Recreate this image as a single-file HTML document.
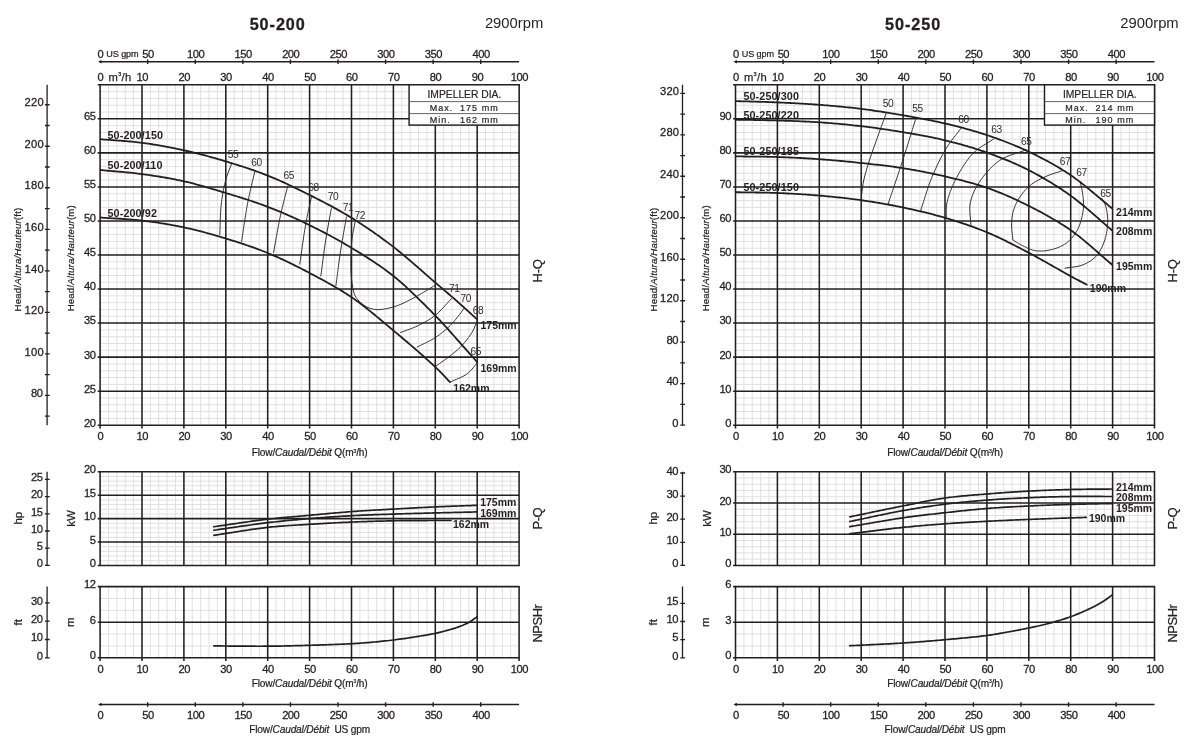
<!DOCTYPE html>
<html lang="en">
<head>
<meta charset="utf-8">
<title>Pump performance curves 50-200 / 50-250</title>
<style>
html,body{margin:0;padding:0;background:#fff;}
body{width:1200px;height:751px;overflow:hidden;font-family:"Liberation Sans",sans-serif;}
svg{display:block;}
</style>
</head>
<body>
<svg width="1200" height="751" viewBox="0 0 1200 751" font-family="'Liberation Sans', sans-serif">
<rect width="1200" height="751" fill="#fff"/>
<path d="M100.1 61.8H519.1M147.68 59.6V64M195.26 59.6V64M242.84 59.6V64M290.42 59.6V64M338 59.6V64M385.58 59.6V64M433.16 59.6V64M480.74 59.6V64" stroke="#231f20" stroke-width="1.4" fill="none"/>
<path d="M98 61.8l3.5 -1.8v3.6z" fill="#231f20"/>
<text x="100.4" y="57.9" font-size="11.2" text-anchor="middle" fill="#231f20" letter-spacing="-0.5" stroke="#231f20" stroke-width="0.28">0</text>
<text x="147.98" y="57.9" font-size="11.2" text-anchor="middle" fill="#231f20" letter-spacing="-0.5" stroke="#231f20" stroke-width="0.28">50</text>
<text x="195.56" y="57.9" font-size="11.2" text-anchor="middle" fill="#231f20" letter-spacing="-0.5" stroke="#231f20" stroke-width="0.28">100</text>
<text x="243.14" y="57.9" font-size="11.2" text-anchor="middle" fill="#231f20" letter-spacing="-0.5" stroke="#231f20" stroke-width="0.28">150</text>
<text x="290.72" y="57.9" font-size="11.2" text-anchor="middle" fill="#231f20" letter-spacing="-0.5" stroke="#231f20" stroke-width="0.28">200</text>
<text x="338.3" y="57.9" font-size="11.2" text-anchor="middle" fill="#231f20" letter-spacing="-0.5" stroke="#231f20" stroke-width="0.28">250</text>
<text x="385.88" y="57.9" font-size="11.2" text-anchor="middle" fill="#231f20" letter-spacing="-0.5" stroke="#231f20" stroke-width="0.28">300</text>
<text x="433.46" y="57.9" font-size="11.2" text-anchor="middle" fill="#231f20" letter-spacing="-0.5" stroke="#231f20" stroke-width="0.28">350</text>
<text x="481.04" y="57.9" font-size="11.2" text-anchor="middle" fill="#231f20" letter-spacing="-0.5" stroke="#231f20" stroke-width="0.28">400</text>
<text x="106.3" y="56.9" font-size="9.1" text-anchor="start" fill="#231f20" letter-spacing="-0.1" stroke="#231f20" stroke-width="0.22">US gpm</text>
<text x="100.4" y="80.6" font-size="11.2" text-anchor="middle" fill="#231f20" letter-spacing="-0.5" stroke="#231f20" stroke-width="0.28">0</text>
<text x="142.3" y="80.6" font-size="11.2" text-anchor="middle" fill="#231f20" letter-spacing="-0.5" stroke="#231f20" stroke-width="0.28">10</text>
<text x="184.2" y="80.6" font-size="11.2" text-anchor="middle" fill="#231f20" letter-spacing="-0.5" stroke="#231f20" stroke-width="0.28">20</text>
<text x="226.1" y="80.6" font-size="11.2" text-anchor="middle" fill="#231f20" letter-spacing="-0.5" stroke="#231f20" stroke-width="0.28">30</text>
<text x="268" y="80.6" font-size="11.2" text-anchor="middle" fill="#231f20" letter-spacing="-0.5" stroke="#231f20" stroke-width="0.28">40</text>
<text x="309.9" y="80.6" font-size="11.2" text-anchor="middle" fill="#231f20" letter-spacing="-0.5" stroke="#231f20" stroke-width="0.28">50</text>
<text x="351.8" y="80.6" font-size="11.2" text-anchor="middle" fill="#231f20" letter-spacing="-0.5" stroke="#231f20" stroke-width="0.28">60</text>
<text x="393.7" y="80.6" font-size="11.2" text-anchor="middle" fill="#231f20" letter-spacing="-0.5" stroke="#231f20" stroke-width="0.28">70</text>
<text x="435.6" y="80.6" font-size="11.2" text-anchor="middle" fill="#231f20" letter-spacing="-0.5" stroke="#231f20" stroke-width="0.28">80</text>
<text x="477.5" y="80.6" font-size="11.2" text-anchor="middle" fill="#231f20" letter-spacing="-0.5" stroke="#231f20" stroke-width="0.28">90</text>
<text x="519.4" y="80.6" font-size="11.2" text-anchor="middle" fill="#231f20" letter-spacing="-0.5" stroke="#231f20" stroke-width="0.28">100</text>
<text x="108.5" y="80.6" font-size="11.2" fill="#231f20" letter-spacing="0.35" stroke="#231f20" stroke-width="0.25">m<tspan font-size="5.5" dy="-4.6">3</tspan><tspan dy="4.6">/h</tspan></text>
<path d="M108.48 84.8V425.2M116.86 84.8V425.2M125.24 84.8V425.2M133.62 84.8V425.2M150.38 84.8V425.2M158.76 84.8V425.2M167.14 84.8V425.2M175.52 84.8V425.2M192.28 84.8V425.2M200.66 84.8V425.2M209.04 84.8V425.2M217.42 84.8V425.2M234.18 84.8V425.2M242.56 84.8V425.2M250.94 84.8V425.2M259.32 84.8V425.2M276.08 84.8V425.2M284.46 84.8V425.2M292.84 84.8V425.2M301.22 84.8V425.2M317.98 84.8V425.2M326.36 84.8V425.2M334.74 84.8V425.2M343.12 84.8V425.2M359.88 84.8V425.2M368.26 84.8V425.2M376.64 84.8V425.2M385.02 84.8V425.2M401.78 84.8V425.2M410.16 84.8V425.2M418.54 84.8V425.2M426.92 84.8V425.2M443.68 84.8V425.2M452.06 84.8V425.2M460.44 84.8V425.2M468.82 84.8V425.2M485.58 84.8V425.2M493.96 84.8V425.2M502.34 84.8V425.2M510.72 84.8V425.2M100.1 91.61H519.1M100.1 98.42H519.1M100.1 105.22H519.1M100.1 112.03H519.1M100.1 125.65H519.1M100.1 132.46H519.1M100.1 139.26H519.1M100.1 146.07H519.1M100.1 159.69H519.1M100.1 166.5H519.1M100.1 173.3H519.1M100.1 180.11H519.1M100.1 193.73H519.1M100.1 200.54H519.1M100.1 207.34H519.1M100.1 214.15H519.1M100.1 227.77H519.1M100.1 234.58H519.1M100.1 241.38H519.1M100.1 248.19H519.1M100.1 261.81H519.1M100.1 268.62H519.1M100.1 275.42H519.1M100.1 282.23H519.1M100.1 295.85H519.1M100.1 302.66H519.1M100.1 309.46H519.1M100.1 316.27H519.1M100.1 329.89H519.1M100.1 336.7H519.1M100.1 343.5H519.1M100.1 350.31H519.1M100.1 363.93H519.1M100.1 370.74H519.1M100.1 377.54H519.1M100.1 384.35H519.1M100.1 397.97H519.1M100.1 404.78H519.1M100.1 411.58H519.1M100.1 418.39H519.1" stroke="#e0e0e2" stroke-width="1" fill="none"/>
<path d="M100.1 84.1V425.9M142 84.1V425.9M183.9 84.1V425.9M225.8 84.1V425.9M267.7 84.1V425.9M309.6 84.1V425.9M351.5 84.1V425.9M393.4 84.1V425.9M435.3 84.1V425.9M477.2 84.1V425.9M519.1 84.1V425.9M99.4 84.8H519.8M99.4 118.84H519.8M99.4 152.88H519.8M99.4 186.92H519.8M99.4 220.96H519.8M99.4 255H519.8M99.4 289.04H519.8M99.4 323.08H519.8M99.4 357.12H519.8M99.4 391.16H519.8M99.4 425.2H519.8" stroke="#231f20" stroke-width="1.55" fill="none"/>
<path d="M108.48 471.8V565.4M116.86 471.8V565.4M125.24 471.8V565.4M133.62 471.8V565.4M150.38 471.8V565.4M158.76 471.8V565.4M167.14 471.8V565.4M175.52 471.8V565.4M192.28 471.8V565.4M200.66 471.8V565.4M209.04 471.8V565.4M217.42 471.8V565.4M234.18 471.8V565.4M242.56 471.8V565.4M250.94 471.8V565.4M259.32 471.8V565.4M276.08 471.8V565.4M284.46 471.8V565.4M292.84 471.8V565.4M301.22 471.8V565.4M317.98 471.8V565.4M326.36 471.8V565.4M334.74 471.8V565.4M343.12 471.8V565.4M359.88 471.8V565.4M368.26 471.8V565.4M376.64 471.8V565.4M385.02 471.8V565.4M401.78 471.8V565.4M410.16 471.8V565.4M418.54 471.8V565.4M426.92 471.8V565.4M443.68 471.8V565.4M452.06 471.8V565.4M460.44 471.8V565.4M468.82 471.8V565.4M485.58 471.8V565.4M493.96 471.8V565.4M502.34 471.8V565.4M510.72 471.8V565.4M100.1 476.48H519.1M100.1 481.16H519.1M100.1 485.84H519.1M100.1 490.52H519.1M100.1 499.88H519.1M100.1 504.56H519.1M100.1 509.24H519.1M100.1 513.92H519.1M100.1 523.28H519.1M100.1 527.96H519.1M100.1 532.64H519.1M100.1 537.32H519.1M100.1 546.68H519.1M100.1 551.36H519.1M100.1 556.04H519.1M100.1 560.72H519.1" stroke="#e0e0e2" stroke-width="1" fill="none"/>
<path d="M100.1 471.1V566.1M142 471.1V566.1M183.9 471.1V566.1M225.8 471.1V566.1M267.7 471.1V566.1M309.6 471.1V566.1M351.5 471.1V566.1M393.4 471.1V566.1M435.3 471.1V566.1M477.2 471.1V566.1M519.1 471.1V566.1M99.4 471.8H519.8M99.4 495.2H519.8M99.4 518.6H519.8M99.4 542H519.8M99.4 565.4H519.8" stroke="#231f20" stroke-width="1.55" fill="none"/>
<path d="M108.48 586.6V657.8M116.86 586.6V657.8M125.24 586.6V657.8M133.62 586.6V657.8M150.38 586.6V657.8M158.76 586.6V657.8M167.14 586.6V657.8M175.52 586.6V657.8M192.28 586.6V657.8M200.66 586.6V657.8M209.04 586.6V657.8M217.42 586.6V657.8M234.18 586.6V657.8M242.56 586.6V657.8M250.94 586.6V657.8M259.32 586.6V657.8M276.08 586.6V657.8M284.46 586.6V657.8M292.84 586.6V657.8M301.22 586.6V657.8M317.98 586.6V657.8M326.36 586.6V657.8M334.74 586.6V657.8M343.12 586.6V657.8M359.88 586.6V657.8M368.26 586.6V657.8M376.64 586.6V657.8M385.02 586.6V657.8M401.78 586.6V657.8M410.16 586.6V657.8M418.54 586.6V657.8M426.92 586.6V657.8M443.68 586.6V657.8M452.06 586.6V657.8M460.44 586.6V657.8M468.82 586.6V657.8M485.58 586.6V657.8M493.96 586.6V657.8M502.34 586.6V657.8M510.72 586.6V657.8M100.1 598.47H519.1M100.1 610.33H519.1M100.1 634.07H519.1M100.1 645.93H519.1" stroke="#e0e0e2" stroke-width="1" fill="none"/>
<path d="M100.1 585.9V658.5M142 585.9V658.5M183.9 585.9V658.5M225.8 585.9V658.5M267.7 585.9V658.5M309.6 585.9V658.5M351.5 585.9V658.5M393.4 585.9V658.5M435.3 585.9V658.5M477.2 585.9V658.5M519.1 585.9V658.5M99.4 586.6H519.8M99.4 622.2H519.8M99.4 657.8H519.8" stroke="#231f20" stroke-width="1.55" fill="none"/>
<path d="M97.7 84.8H100.1M97.7 118.84H100.1M97.7 152.88H100.1M97.7 186.92H100.1M97.7 220.96H100.1M97.7 255H100.1M97.7 289.04H100.1M97.7 323.08H100.1M97.7 357.12H100.1M97.7 391.16H100.1M97.7 425.2H100.1M97.7 471.8H100.1M97.7 495.2H100.1M97.7 518.6H100.1M97.7 542H100.1M97.7 565.4H100.1M97.7 586.6H100.1M97.7 622.2H100.1M97.7 657.8H100.1M100.1 425.2V428.4M100.1 657.8V661M142 425.2V428.4M142 657.8V661M183.9 425.2V428.4M183.9 657.8V661M225.8 425.2V428.4M225.8 657.8V661M267.7 425.2V428.4M267.7 657.8V661M309.6 425.2V428.4M309.6 657.8V661M351.5 425.2V428.4M351.5 657.8V661M393.4 425.2V428.4M393.4 657.8V661M435.3 425.2V428.4M435.3 657.8V661M477.2 425.2V428.4M477.2 657.8V661M519.1 425.2V428.4M519.1 657.8V661" stroke="#231f20" stroke-width="1.55" fill="none"/>
<text x="95.5" y="426.6" font-size="11.2" text-anchor="end" fill="#231f20" letter-spacing="-0.5" stroke="#231f20" stroke-width="0.28">20</text>
<text x="95.5" y="392.56" font-size="11.2" text-anchor="end" fill="#231f20" letter-spacing="-0.5" stroke="#231f20" stroke-width="0.28">25</text>
<text x="95.5" y="358.52" font-size="11.2" text-anchor="end" fill="#231f20" letter-spacing="-0.5" stroke="#231f20" stroke-width="0.28">30</text>
<text x="95.5" y="324.48" font-size="11.2" text-anchor="end" fill="#231f20" letter-spacing="-0.5" stroke="#231f20" stroke-width="0.28">35</text>
<text x="95.5" y="290.44" font-size="11.2" text-anchor="end" fill="#231f20" letter-spacing="-0.5" stroke="#231f20" stroke-width="0.28">40</text>
<text x="95.5" y="256.4" font-size="11.2" text-anchor="end" fill="#231f20" letter-spacing="-0.5" stroke="#231f20" stroke-width="0.28">45</text>
<text x="95.5" y="222.36" font-size="11.2" text-anchor="end" fill="#231f20" letter-spacing="-0.5" stroke="#231f20" stroke-width="0.28">50</text>
<text x="95.5" y="188.32" font-size="11.2" text-anchor="end" fill="#231f20" letter-spacing="-0.5" stroke="#231f20" stroke-width="0.28">55</text>
<text x="95.5" y="154.28" font-size="11.2" text-anchor="end" fill="#231f20" letter-spacing="-0.5" stroke="#231f20" stroke-width="0.28">60</text>
<text x="95.5" y="120.24" font-size="11.2" text-anchor="end" fill="#231f20" letter-spacing="-0.5" stroke="#231f20" stroke-width="0.28">65</text>
<text x="95.5" y="566.9" font-size="11.2" text-anchor="end" fill="#231f20" letter-spacing="-0.5" stroke="#231f20" stroke-width="0.28">0</text>
<text x="95.5" y="543.5" font-size="11.2" text-anchor="end" fill="#231f20" letter-spacing="-0.5" stroke="#231f20" stroke-width="0.28">5</text>
<text x="95.5" y="520.1" font-size="11.2" text-anchor="end" fill="#231f20" letter-spacing="-0.5" stroke="#231f20" stroke-width="0.28">10</text>
<text x="95.5" y="496.7" font-size="11.2" text-anchor="end" fill="#231f20" letter-spacing="-0.5" stroke="#231f20" stroke-width="0.28">15</text>
<text x="95.5" y="473.3" font-size="11.2" text-anchor="end" fill="#231f20" letter-spacing="-0.5" stroke="#231f20" stroke-width="0.28">20</text>
<text x="95.5" y="659.2" font-size="11.2" text-anchor="end" fill="#231f20" letter-spacing="-0.5" stroke="#231f20" stroke-width="0.28">0</text>
<text x="95.5" y="623.6" font-size="11.2" text-anchor="end" fill="#231f20" letter-spacing="-0.5" stroke="#231f20" stroke-width="0.28">6</text>
<text x="95.5" y="588" font-size="11.2" text-anchor="end" fill="#231f20" letter-spacing="-0.5" stroke="#231f20" stroke-width="0.28">12</text>
<text x="100.4" y="440.2" font-size="11.2" text-anchor="middle" fill="#231f20" letter-spacing="-0.5" stroke="#231f20" stroke-width="0.28">0</text>
<text x="100.4" y="672.6" font-size="11.2" text-anchor="middle" fill="#231f20" letter-spacing="-0.5" stroke="#231f20" stroke-width="0.28">0</text>
<text x="142.3" y="440.2" font-size="11.2" text-anchor="middle" fill="#231f20" letter-spacing="-0.5" stroke="#231f20" stroke-width="0.28">10</text>
<text x="142.3" y="672.6" font-size="11.2" text-anchor="middle" fill="#231f20" letter-spacing="-0.5" stroke="#231f20" stroke-width="0.28">10</text>
<text x="184.2" y="440.2" font-size="11.2" text-anchor="middle" fill="#231f20" letter-spacing="-0.5" stroke="#231f20" stroke-width="0.28">20</text>
<text x="184.2" y="672.6" font-size="11.2" text-anchor="middle" fill="#231f20" letter-spacing="-0.5" stroke="#231f20" stroke-width="0.28">20</text>
<text x="226.1" y="440.2" font-size="11.2" text-anchor="middle" fill="#231f20" letter-spacing="-0.5" stroke="#231f20" stroke-width="0.28">30</text>
<text x="226.1" y="672.6" font-size="11.2" text-anchor="middle" fill="#231f20" letter-spacing="-0.5" stroke="#231f20" stroke-width="0.28">30</text>
<text x="268" y="440.2" font-size="11.2" text-anchor="middle" fill="#231f20" letter-spacing="-0.5" stroke="#231f20" stroke-width="0.28">40</text>
<text x="268" y="672.6" font-size="11.2" text-anchor="middle" fill="#231f20" letter-spacing="-0.5" stroke="#231f20" stroke-width="0.28">40</text>
<text x="309.9" y="440.2" font-size="11.2" text-anchor="middle" fill="#231f20" letter-spacing="-0.5" stroke="#231f20" stroke-width="0.28">50</text>
<text x="309.9" y="672.6" font-size="11.2" text-anchor="middle" fill="#231f20" letter-spacing="-0.5" stroke="#231f20" stroke-width="0.28">50</text>
<text x="351.8" y="440.2" font-size="11.2" text-anchor="middle" fill="#231f20" letter-spacing="-0.5" stroke="#231f20" stroke-width="0.28">60</text>
<text x="351.8" y="672.6" font-size="11.2" text-anchor="middle" fill="#231f20" letter-spacing="-0.5" stroke="#231f20" stroke-width="0.28">60</text>
<text x="393.7" y="440.2" font-size="11.2" text-anchor="middle" fill="#231f20" letter-spacing="-0.5" stroke="#231f20" stroke-width="0.28">70</text>
<text x="393.7" y="672.6" font-size="11.2" text-anchor="middle" fill="#231f20" letter-spacing="-0.5" stroke="#231f20" stroke-width="0.28">70</text>
<text x="435.6" y="440.2" font-size="11.2" text-anchor="middle" fill="#231f20" letter-spacing="-0.5" stroke="#231f20" stroke-width="0.28">80</text>
<text x="435.6" y="672.6" font-size="11.2" text-anchor="middle" fill="#231f20" letter-spacing="-0.5" stroke="#231f20" stroke-width="0.28">80</text>
<text x="477.5" y="440.2" font-size="11.2" text-anchor="middle" fill="#231f20" letter-spacing="-0.5" stroke="#231f20" stroke-width="0.28">90</text>
<text x="477.5" y="672.6" font-size="11.2" text-anchor="middle" fill="#231f20" letter-spacing="-0.5" stroke="#231f20" stroke-width="0.28">90</text>
<text x="519.4" y="440.2" font-size="11.2" text-anchor="middle" fill="#231f20" letter-spacing="-0.5" stroke="#231f20" stroke-width="0.28">100</text>
<text x="519.4" y="672.6" font-size="11.2" text-anchor="middle" fill="#231f20" letter-spacing="-0.5" stroke="#231f20" stroke-width="0.28">100</text>
<text x="309.6" y="456.2" font-size="10.1" text-anchor="middle" fill="#231f20" letter-spacing="-0.15" stroke="#231f20" stroke-width="0.22">Flow/<tspan font-style="italic">Caudal/Débit</tspan> Q(m<tspan font-size="5" dy="-3.6">3</tspan><tspan dy="3.6">/h)</tspan></text>
<text x="309.6" y="686.6" font-size="10.1" text-anchor="middle" fill="#231f20" letter-spacing="-0.15" stroke="#231f20" stroke-width="0.22">Flow/<tspan font-style="italic">Caudal/Débit</tspan> Q(m<tspan font-size="5" dy="-3.6">3</tspan><tspan dy="3.6">/h)</tspan></text>
<text x="309.6" y="733.2" font-size="10.1" text-anchor="middle" fill="#231f20" letter-spacing="-0.15" stroke="#231f20" stroke-width="0.22">Flow/<tspan font-style="italic">Caudal/Débit</tspan> &#160;US gpm</text>
<path d="M100.1 704.5H519.1M147.68 702.3V706.7M195.26 702.3V706.7M242.84 702.3V706.7M290.42 702.3V706.7M338 702.3V706.7M385.58 702.3V706.7M433.16 702.3V706.7M480.74 702.3V706.7" stroke="#231f20" stroke-width="1.4" fill="none"/>
<path d="M98 704.5l3.5 -1.8v3.6z" fill="#231f20"/>
<text x="100.4" y="719.4" font-size="11.2" text-anchor="middle" fill="#231f20" letter-spacing="-0.5" stroke="#231f20" stroke-width="0.28">0</text>
<text x="147.98" y="719.4" font-size="11.2" text-anchor="middle" fill="#231f20" letter-spacing="-0.5" stroke="#231f20" stroke-width="0.28">50</text>
<text x="195.56" y="719.4" font-size="11.2" text-anchor="middle" fill="#231f20" letter-spacing="-0.5" stroke="#231f20" stroke-width="0.28">100</text>
<text x="243.14" y="719.4" font-size="11.2" text-anchor="middle" fill="#231f20" letter-spacing="-0.5" stroke="#231f20" stroke-width="0.28">150</text>
<text x="290.72" y="719.4" font-size="11.2" text-anchor="middle" fill="#231f20" letter-spacing="-0.5" stroke="#231f20" stroke-width="0.28">200</text>
<text x="338.3" y="719.4" font-size="11.2" text-anchor="middle" fill="#231f20" letter-spacing="-0.5" stroke="#231f20" stroke-width="0.28">250</text>
<text x="385.88" y="719.4" font-size="11.2" text-anchor="middle" fill="#231f20" letter-spacing="-0.5" stroke="#231f20" stroke-width="0.28">300</text>
<text x="433.46" y="719.4" font-size="11.2" text-anchor="middle" fill="#231f20" letter-spacing="-0.5" stroke="#231f20" stroke-width="0.28">350</text>
<text x="481.04" y="719.4" font-size="11.2" text-anchor="middle" fill="#231f20" letter-spacing="-0.5" stroke="#231f20" stroke-width="0.28">400</text>
<text x="42.5" y="397.04" font-size="11.2" text-anchor="end" fill="#231f20" letter-spacing="-0.5" stroke="#231f20" stroke-width="0.28">80</text>
<text x="43.9" y="355.53" font-size="11.2" text-anchor="end" fill="#231f20" letter-spacing="0.2" stroke="#231f20" stroke-width="0.28">100</text>
<text x="43.9" y="314.02" font-size="11.2" text-anchor="end" fill="#231f20" letter-spacing="0.2" stroke="#231f20" stroke-width="0.28">120</text>
<text x="43.9" y="272.5" font-size="11.2" text-anchor="end" fill="#231f20" letter-spacing="0.2" stroke="#231f20" stroke-width="0.28">140</text>
<text x="43.9" y="230.99" font-size="11.2" text-anchor="end" fill="#231f20" letter-spacing="0.2" stroke="#231f20" stroke-width="0.28">160</text>
<text x="43.9" y="189.47" font-size="11.2" text-anchor="end" fill="#231f20" letter-spacing="0.2" stroke="#231f20" stroke-width="0.28">180</text>
<text x="43.9" y="147.96" font-size="11.2" text-anchor="end" fill="#231f20" letter-spacing="0.2" stroke="#231f20" stroke-width="0.28">200</text>
<text x="43.9" y="106.45" font-size="11.2" text-anchor="end" fill="#231f20" letter-spacing="0.2" stroke="#231f20" stroke-width="0.28">220</text>
<text x="42.5" y="567.1" font-size="11.2" text-anchor="end" fill="#231f20" letter-spacing="-0.5" stroke="#231f20" stroke-width="0.28">0</text>
<text x="42.5" y="549.9" font-size="11.2" text-anchor="end" fill="#231f20" letter-spacing="-0.5" stroke="#231f20" stroke-width="0.28">5</text>
<text x="42.5" y="532.7" font-size="11.2" text-anchor="end" fill="#231f20" letter-spacing="-0.5" stroke="#231f20" stroke-width="0.28">10</text>
<text x="42.5" y="515.5" font-size="11.2" text-anchor="end" fill="#231f20" letter-spacing="-0.5" stroke="#231f20" stroke-width="0.28">15</text>
<text x="42.5" y="498.3" font-size="11.2" text-anchor="end" fill="#231f20" letter-spacing="-0.5" stroke="#231f20" stroke-width="0.28">20</text>
<text x="42.5" y="481.1" font-size="11.2" text-anchor="end" fill="#231f20" letter-spacing="-0.5" stroke="#231f20" stroke-width="0.28">25</text>
<text x="42.5" y="659.5" font-size="11.2" text-anchor="end" fill="#231f20" letter-spacing="-0.5" stroke="#231f20" stroke-width="0.28">0</text>
<text x="42.5" y="641.2" font-size="11.2" text-anchor="end" fill="#231f20" letter-spacing="-0.5" stroke="#231f20" stroke-width="0.28">10</text>
<text x="42.5" y="622.9" font-size="11.2" text-anchor="end" fill="#231f20" letter-spacing="-0.5" stroke="#231f20" stroke-width="0.28">20</text>
<text x="42.5" y="604.6" font-size="11.2" text-anchor="end" fill="#231f20" letter-spacing="-0.5" stroke="#231f20" stroke-width="0.28">30</text>
<path d="M47.1 84.8V425.2M44.9 416.1H49.7M44.9 395.34H49.7M44.9 374.59H49.7M44.9 353.83H49.7M44.9 333.07H49.7M44.9 312.32H49.7M44.9 291.56H49.7M44.9 270.8H49.7M44.9 250.05H49.7M44.9 229.29H49.7M44.9 208.53H49.7M44.9 187.77H49.7M44.9 167.02H49.7M44.9 146.26H49.7M44.9 125.5H49.7M44.9 104.75H49.7M47.1 471.8V565.4M44.9 565.4H49.7M44.9 548.2H49.7M44.9 531H49.7M44.9 513.8H49.7M44.9 496.6H49.7M44.9 479.4H49.7M47.1 586.6V657.8M44.9 657.8H49.7M44.9 639.5H49.7M44.9 621.2H49.7M44.9 602.9H49.7" stroke="#231f20" stroke-width="1.3" fill="none"/>
<text x="21.1" y="259.5" font-size="9.6" text-anchor="middle" fill="#231f20" letter-spacing="0.2" stroke="#231f20" stroke-width="0.22" transform="rotate(-90 21.1 259.5)">Head/<tspan font-style="italic">Altura/Hauteur</tspan>(ft)</text>
<text x="74.1" y="258.2" font-size="9.6" text-anchor="middle" fill="#231f20" letter-spacing="0.2" stroke="#231f20" stroke-width="0.22" transform="rotate(-90 74.1 258.2)">Head/<tspan font-style="italic">Altura/Hauteur</tspan>(m)</text>
<text x="21.7" y="518.2" font-size="11.5" text-anchor="middle" fill="#231f20" transform="rotate(-90 21.7 518.2)" stroke="#231f20" stroke-width="0.22">hp</text>
<text x="75.3" y="518.5" font-size="11.5" text-anchor="middle" fill="#231f20" transform="rotate(-90 75.3 518.5)" stroke="#231f20" stroke-width="0.22">kW</text>
<text x="22.1" y="622.2" font-size="11.5" text-anchor="middle" fill="#231f20" transform="rotate(-90 22.1 622.2)" stroke="#231f20" stroke-width="0.22">ft</text>
<text x="73.6" y="622.2" font-size="11.5" text-anchor="middle" fill="#231f20" transform="rotate(-90 73.6 622.2)" stroke="#231f20" stroke-width="0.22">m</text>
<text x="541.7" y="270.9" font-size="13" text-anchor="middle" fill="#231f20" letter-spacing="-0.3" transform="rotate(-90 541.7 270.9)" stroke="#231f20" stroke-width="0.22">H-Q</text>
<text x="541.7" y="518.7" font-size="13" text-anchor="middle" fill="#231f20" letter-spacing="-0.5" transform="rotate(-90 541.7 518.7)" stroke="#231f20" stroke-width="0.22">P-Q</text>
<text x="541.7" y="623.6" font-size="13" text-anchor="middle" fill="#231f20" letter-spacing="-0.5" transform="rotate(-90 541.7 623.6)" stroke="#231f20" stroke-width="0.22">NPSHr</text>
<text x="277.7" y="30" font-size="16.2" text-anchor="middle" fill="#231f20" font-weight="bold" letter-spacing="0.95" stroke="#231f20" stroke-width="0.3">50-200</text>
<text x="514.1" y="27.8" font-size="14.8" text-anchor="middle" fill="#231f20">2900rpm</text>
<rect x="409.1" y="84.8" width="110" height="40.3" fill="#fff" stroke="#231f20" stroke-width="1.45"/>
<path d="M409.1 101.6H519.1M409.1 113.6H519.1" stroke="#555" stroke-width="0.9" fill="none"/>
<text x="464.4" y="97.5" font-size="10.3" text-anchor="middle" fill="#2a2627" letter-spacing="0" stroke="#2a2627" stroke-width="0.2">IMPELLER DIA.</text>
<text y="110.5" font-size="9" letter-spacing="1" fill="#2a2627" stroke="#2a2627" stroke-width="0.2"><tspan x="429.8">Max.</tspan><tspan x="460.1">175</tspan><tspan x="481.8">mm</tspan></text>
<text y="122.5" font-size="9" letter-spacing="1" fill="#2a2627" stroke="#2a2627" stroke-width="0.2"><tspan x="429.8">Min.</tspan><tspan x="460.1">162</tspan><tspan x="481.8">mm</tspan></text>
<path d="M231.5 163.9L230.75 165.95 229.98 167.97 229.2 169.98 228.42 172 227.66 174.04 226.93 176.12 226.24 178.27 225.6 180.5 225.1 182.45 224.61 184.44 224.15 186.47 223.72 188.54 223.3 190.64 222.91 192.78 222.54 194.95 222.2 197.15 221.87 199.38 221.58 201.63 221.3 203.9 221.09 205.83 220.92 207.8 220.77 209.79 220.64 211.82 220.53 213.87 220.44 215.94 220.36 218.02 220.29 220.12 220.23 222.22 220.17 224.33 220.11 226.44 220.04 228.55 219.97 230.65 219.89 232.73 219.8 234.8" stroke="#2b2728" stroke-width="0.95" fill="none"/>
<path d="M254.7 172L254.24 173.98 253.78 175.94 253.32 177.89 252.86 179.83 252.39 181.76 251.92 183.7 251.46 185.64 251 187.59 250.54 189.55 250.08 191.53 249.63 193.52 249.19 195.55 248.75 197.6 248.32 199.68 247.9 201.8 247.55 203.66 247.2 205.55 246.86 207.47 246.52 209.41 246.19 211.37 245.87 213.35 245.55 215.35 245.23 217.36 244.92 219.39 244.6 221.42 244.29 223.46 243.99 225.51 243.68 227.56 243.37 229.61 243.06 231.66 242.76 233.7 242.45 235.74 242.13 237.77 241.82 239.79 241.5 241.8" stroke="#2b2728" stroke-width="0.95" fill="none"/>
<path d="M287.8 185.8L287.31 187.77 286.81 189.71 286.31 191.64 285.81 193.57 285.31 195.48 284.81 197.4 284.31 199.33 283.82 201.27 283.32 203.23 282.83 205.22 282.34 207.23 281.85 209.28 281.37 211.37 280.9 213.5 280.51 215.31 280.13 217.15 279.74 219.02 279.37 220.92 278.99 222.85 278.62 224.8 278.25 226.76 277.88 228.75 277.51 230.74 277.15 232.75 276.78 234.77 276.42 236.8 276.06 238.83 275.69 240.86 275.33 242.88 274.97 244.91 274.6 246.92 274.24 248.93 273.87 250.92 273.5 252.9" stroke="#2b2728" stroke-width="0.95" fill="none"/>
<path d="M311.4 197.1L310.98 199.08 310.55 201.04 310.12 202.97 309.69 204.9 309.26 206.82 308.83 208.74 308.4 210.68 307.98 212.65 307.56 214.64 307.13 216.67 306.72 218.76 306.31 220.9 305.9 223.1 305.57 224.95 305.25 226.85 304.93 228.79 304.61 230.77 304.29 232.78 303.98 234.83 303.67 236.9 303.36 238.99 303.06 241.11 302.75 243.24 302.45 245.38 302.14 247.53 301.84 249.68 301.54 251.84 301.23 253.99 300.93 256.14 300.62 258.28 300.32 260.41 300.01 262.51 299.7 264.6" stroke="#2b2728" stroke-width="0.95" fill="none"/>
<path d="M331.4 208.2L331.04 210.19 330.68 212.17 330.32 214.15 329.95 216.13 329.58 218.1 329.22 220.07 328.85 222.04 328.48 224.02 328.12 226 327.76 227.98 327.4 229.97 327.05 231.98 326.7 233.99 326.36 236.01 326.03 238.05 325.7 240.1 325.4 242.05 325.1 244.02 324.81 245.99 324.53 247.98 324.25 249.98 323.98 251.99 323.71 254 323.44 256.02 323.18 258.05 322.91 260.08 322.65 262.11 322.39 264.14 322.13 266.18 321.87 268.21 321.6 270.24 321.34 272.26 321.07 274.29 320.8 276.3" stroke="#2b2728" stroke-width="0.95" fill="none"/>
<path d="M346.5 216.7L346.15 218.7 345.8 220.71 345.44 222.71 345.09 224.71 344.73 226.71 344.37 228.71 344.01 230.71 343.65 232.71 343.29 234.71 342.94 236.72 342.59 238.72 342.24 240.73 341.9 242.74 341.57 244.75 341.24 246.76 340.91 248.78 340.6 250.8 340.29 252.85 339.99 254.9 339.69 256.96 339.41 259.02 339.12 261.08 338.85 263.14 338.57 265.21 338.3 267.28 338.04 269.35 337.77 271.42 337.51 273.49 337.24 275.56 336.98 277.63 336.71 279.7 336.45 281.77 336.17 283.83 335.9 285.9" stroke="#2b2728" stroke-width="0.95" fill="none"/>
<path d="M355.1 222L354.73 223.99 354.35 225.95 353.95 227.89 353.56 229.82 353.18 231.78 352.81 233.77 352.47 235.81 352.16 237.91 351.9 240.1 351.71 242.05 351.54 244.1 351.39 246.22 351.25 248.39 351.14 250.61 351.04 252.86 350.97 255.11 350.91 257.35 350.87 259.57 350.85 261.73 350.85 263.84 350.87 265.87 350.9 267.8 350.97 270.18 351.06 272.49 351.19 274.74 351.34 276.93 351.53 279.05 351.75 281.11 352 283.09 352.3 285 352.69 287.32 353.1 289.52 353.58 291.62 354.2 293.61 355 295.5 356.23 297.6 357.69 299.57 359.31 301.37 361 303 362.62 304.35 364.32 305.55 366.11 306.6 368 307.5 370.06 308.3 372.2 308.94 374.5 309.39 377 309.6 378.92 309.59 380.99 309.44 383.17 309.19 385.44 308.82 387.75 308.37 390.08 307.84 392.37 307.25 394.6 306.6 396.46 305.99 398.32 305.31 400.16 304.57 402 303.77 403.84 302.93 405.69 302.04 407.54 301.12 409.41 300.16 411.29 299.19 413.2 298.2 414.87 297.31 416.56 296.39 418.27 295.42 419.98 294.43 421.71 293.41 423.44 292.37 425.18 291.32 426.92 290.26 428.66 289.19 430.4 288.13 432.14 287.07 433.87 286.03 435.6 285" stroke="#2b2728" stroke-width="0.95" fill="none"/>
<path d="M452.7 297.3L451.28 298.8 449.87 300.33 448.47 301.88 447.07 303.44 445.66 305.01 444.26 306.56 442.85 308.09 441.43 309.58 440 311.03 438.55 312.43 437.09 313.75 435.6 315 433.8 316.39 431.99 317.7 430.17 318.93 428.32 320.1 426.46 321.21 424.57 322.28 422.67 323.31 420.75 324.31 418.8 325.3 417.01 326.16 415.19 326.97 413.34 327.74 411.48 328.48 409.6 329.19 407.72 329.88 405.83 330.57 403.95 331.27 402.07 331.97 400.2 332.7" stroke="#2b2728" stroke-width="0.95" fill="none"/>
<path d="M464.5 308.1L463.23 309.67 461.98 311.27 460.74 312.88 459.49 314.49 458.25 316.11 457 317.71 455.74 319.29 454.46 320.84 453.17 322.34 451.85 323.8 450.5 325.2 448.94 326.73 447.36 328.21 445.77 329.64 444.16 331.02 442.52 332.37 440.85 333.67 439.14 334.95 437.39 336.19 435.6 337.4 433.86 338.5 432.06 339.55 430.22 340.56 428.35 341.54 426.45 342.49 424.53 343.43 422.61 344.36 420.69 345.29 418.78 346.23 416.9 347.2" stroke="#2b2728" stroke-width="0.95" fill="none"/>
<path d="M477.5 319.7L476.78 321.54 476.11 323.37 475.44 325.2 474.72 327.04 473.89 328.9 472.9 330.8 471.94 332.43 470.87 334.11 469.71 335.83 468.48 337.57 467.18 339.3 465.84 341 464.47 342.67 463.09 344.28 461.7 345.8 460.18 347.36 458.6 348.86 456.97 350.3 455.32 351.69 453.64 353.05 451.96 354.38 450.27 355.7 448.6 357 446.76 358.41 444.91 359.76 443.05 361.09 441.19 362.39 439.33 363.69 437.46 364.98 435.6 366.3" stroke="#2b2728" stroke-width="0.95" fill="none"/>
<path d="M477.5 362.5L476.08 364.13 474.72 365.8 473.37 367.49 472 369.15 470.55 370.76 469 372.29 467.3 373.7 465.69 374.81 463.95 375.84 462.13 376.79 460.23 377.69 458.28 378.55 456.31 379.4 454.34 380.24 452.4 381.1 450.5 382" stroke="#2b2728" stroke-width="0.95" fill="none"/>
<path d="M100.1 139.2L102.1 139.37 104.09 139.53 106.09 139.68 108.08 139.83 110.08 139.97 112.08 140.12 114.08 140.26 116.07 140.4 118.07 140.54 120.07 140.69 122.06 140.83 124.06 140.99 126.06 141.15 128.05 141.32 130.05 141.49 132.04 141.68 134.03 141.87 136.03 142.08 138.02 142.31 140.01 142.55 142 142.8 144 143.07 146 143.35 148 143.64 150 143.93 152 144.24 154 144.56 156 144.88 158 145.22 159.99 145.56 161.99 145.91 163.99 146.27 165.98 146.64 167.98 147.01 169.97 147.4 171.96 147.79 173.96 148.19 175.95 148.6 177.94 149.01 179.93 149.43 181.91 149.86 183.9 150.3 185.9 150.75 187.91 151.21 189.91 151.67 191.91 152.15 193.91 152.63 195.91 153.13 197.91 153.63 199.91 154.14 201.91 154.65 203.9 155.18 205.9 155.71 207.89 156.25 209.89 156.8 211.88 157.35 213.87 157.91 215.86 158.48 217.85 159.05 219.84 159.63 221.83 160.21 223.81 160.8 225.8 161.4 227.71 161.98 229.63 162.56 231.54 163.15 233.46 163.74 235.37 164.33 237.28 164.93 239.19 165.53 241.11 166.14 243.02 166.76 244.92 167.38 246.83 168.02 248.74 168.66 250.64 169.3 252.55 169.96 254.45 170.63 256.35 171.3 258.25 171.99 260.14 172.69 262.03 173.4 263.93 174.12 265.81 174.85 267.7 175.6 269.54 176.34 271.38 177.1 273.22 177.86 275.05 178.64 276.88 179.43 278.71 180.23 280.54 181.04 282.37 181.86 284.19 182.69 286.02 183.53 287.84 184.38 289.66 185.23 291.48 186.09 293.3 186.96 295.11 187.83 296.93 188.71 298.74 189.6 300.55 190.49 302.36 191.39 304.17 192.28 305.98 193.19 307.79 194.09 309.6 195 311.44 195.92 313.27 196.85 315.11 197.78 316.95 198.72 318.78 199.65 320.61 200.59 322.45 201.54 324.28 202.49 326.11 203.45 327.94 204.42 329.77 205.39 331.59 206.37 333.41 207.36 335.24 208.35 337.05 209.36 338.87 210.37 340.68 211.4 342.49 212.44 344.3 213.48 346.11 214.54 347.91 215.62 349.71 216.7 351.5 217.8 353.2 218.86 354.91 219.92 356.61 221 358.3 222.08 360 223.18 361.69 224.28 363.38 225.39 365.07 226.52 366.75 227.65 368.44 228.79 370.12 229.94 371.8 231.09 373.47 232.26 375.15 233.44 376.82 234.62 378.49 235.81 380.16 237.01 381.82 238.22 383.48 239.43 385.14 240.66 386.8 241.89 388.45 243.13 390.1 244.38 391.75 245.64 393.4 246.9 394.99 248.13 396.59 249.4 398.21 250.69 399.83 252 401.46 253.34 403.1 254.69 404.74 256.06 406.39 257.45 408.03 258.84 409.67 260.24 411.3 261.65 412.93 263.06 414.56 264.47 416.17 265.87 417.77 267.27 419.35 268.66 420.92 270.04 422.47 271.4 424 272.75 425.51 274.08 427 275.38 428.46 276.67 429.89 277.92 431.29 279.14 432.66 280.33 434 281.48 435.3 282.6 437.14 284.17 438.9 285.66 440.59 287.1 442.23 288.49 443.82 289.85 445.38 291.17 446.91 292.47 448.43 293.76 449.93 295.05 451.44 296.35 452.97 297.67 454.52 299.01 456.1 300.4 457.63 301.75 459.15 303.1 460.68 304.47 462.21 305.84 463.74 307.22 465.27 308.6 466.8 309.98 468.33 311.37 469.85 312.76 471.38 314.16 472.91 315.55 474.44 316.93 475.97 318.32 477.5 319.7" stroke="#231f20" stroke-width="1.8" fill="none"/>
<path d="M100.1 170L102.1 170.19 104.09 170.38 106.09 170.56 108.08 170.74 110.08 170.91 112.08 171.08 114.07 171.25 116.07 171.42 118.07 171.6 120.06 171.77 122.06 171.95 124.06 172.13 126.05 172.31 128.05 172.51 130.04 172.71 132.04 172.91 134.03 173.13 136.02 173.35 138.02 173.59 140.01 173.84 142 174.1 144 174.37 146 174.65 148 174.93 150 175.21 152 175.51 154 175.81 156 176.11 158 176.42 160 176.74 161.99 177.07 163.99 177.4 165.99 177.75 167.98 178.1 169.98 178.46 171.97 178.84 173.96 179.22 175.95 179.61 177.94 180.02 179.93 180.43 181.92 180.86 183.9 181.3 185.91 181.76 187.91 182.23 189.91 182.72 191.92 183.22 193.92 183.74 195.92 184.26 197.91 184.8 199.91 185.34 201.91 185.9 203.9 186.46 205.9 187.03 207.89 187.61 209.88 188.2 211.87 188.79 213.86 189.38 215.85 189.98 217.84 190.58 219.83 191.18 221.82 191.79 223.81 192.39 225.8 193 227.71 193.58 229.62 194.16 231.53 194.74 233.45 195.33 235.36 195.91 237.27 196.5 239.18 197.1 241.09 197.69 243 198.29 244.91 198.9 246.82 199.51 248.72 200.13 250.63 200.75 252.53 201.39 254.43 202.03 256.34 202.68 258.23 203.34 260.13 204.01 262.03 204.69 263.92 205.38 265.81 206.08 267.7 206.8 269.62 207.54 271.54 208.29 273.46 209.06 275.38 209.83 277.29 210.61 279.21 211.4 281.12 212.2 283.03 213.01 284.94 213.83 286.85 214.65 288.75 215.49 290.65 216.33 292.56 217.18 294.46 218.04 296.36 218.91 298.25 219.79 300.15 220.67 302.04 221.56 303.93 222.46 305.83 223.37 307.71 224.28 309.6 225.2 311.44 226.1 313.28 227.01 315.12 227.93 316.95 228.86 318.79 229.79 320.62 230.73 322.45 231.67 324.28 232.62 326.11 233.58 327.94 234.55 329.76 235.53 331.59 236.51 333.41 237.5 335.23 238.5 337.05 239.51 338.86 240.53 340.67 241.55 342.48 242.59 344.29 243.63 346.1 244.69 347.9 245.75 349.7 246.82 351.5 247.9 353.2 248.93 354.9 249.96 356.6 250.99 358.3 252.03 360 253.07 361.7 254.12 363.39 255.17 365.09 256.24 366.78 257.3 368.47 258.38 370.16 259.46 371.85 260.56 373.53 261.66 375.21 262.78 376.89 263.91 378.56 265.05 380.23 266.2 381.89 267.37 383.55 268.55 385.21 269.75 386.86 270.96 388.5 272.2 390.14 273.45 391.77 274.71 393.4 276 394.96 277.26 396.52 278.55 398.1 279.87 399.68 281.22 401.27 282.61 402.86 284.01 404.45 285.44 406.04 286.88 407.63 288.34 409.22 289.82 410.8 291.3 412.38 292.8 413.95 294.3 415.51 295.8 417.05 297.3 418.59 298.8 420.1 300.29 421.6 301.78 423.09 303.26 424.55 304.72 425.99 306.16 427.4 307.59 428.79 308.99 430.16 310.37 431.49 311.73 432.79 313.05 434.06 314.34 435.3 315.6 436.93 317.26 438.49 318.88 439.99 320.46 441.44 322.01 442.84 323.52 444.21 325.02 445.55 326.49 446.87 327.95 448.17 329.41 449.47 330.86 450.76 332.32 452.07 333.79 453.39 335.27 454.73 336.77 456.1 338.3 457.43 339.79 458.77 341.28 460.11 342.78 461.44 344.28 462.78 345.79 464.12 347.3 465.46 348.82 466.79 350.34 468.13 351.86 469.47 353.38 470.81 354.91 472.15 356.43 473.49 357.95 474.82 359.47 476.16 360.99 477.5 362.5" stroke="#231f20" stroke-width="1.8" fill="none"/>
<path d="M100.1 217.5L102.1 217.64 104.09 217.78 106.09 217.91 108.08 218.04 110.08 218.16 112.08 218.28 114.07 218.4 116.07 218.52 118.07 218.64 120.07 218.76 122.06 218.88 124.06 219.02 126.05 219.15 128.05 219.3 130.04 219.45 132.04 219.61 134.03 219.78 136.03 219.97 138.02 220.16 140.01 220.37 142 220.6 144 220.84 146 221.09 148 221.34 150 221.6 152 221.87 154 222.15 156 222.44 158 222.73 160 223.04 161.99 223.35 163.99 223.67 165.98 224 167.98 224.34 169.97 224.69 171.97 225.05 173.96 225.41 175.95 225.79 177.94 226.18 179.93 226.57 181.91 226.98 183.9 227.4 185.91 227.83 187.91 228.28 189.91 228.73 191.92 229.2 193.92 229.68 195.92 230.17 197.92 230.67 199.92 231.17 201.91 231.69 203.91 232.22 205.9 232.75 207.9 233.29 209.89 233.85 211.88 234.4 213.88 234.97 215.87 235.54 217.85 236.12 219.84 236.71 221.83 237.3 223.82 237.9 225.8 238.5 227.72 239.09 229.63 239.68 231.55 240.27 233.46 240.87 235.37 241.47 237.29 242.08 239.2 242.7 241.11 243.32 243.02 243.95 244.93 244.59 246.84 245.23 248.75 245.89 250.65 246.55 252.55 247.22 254.45 247.9 256.35 248.6 258.25 249.3 260.15 250.02 262.04 250.74 263.93 251.48 265.82 252.23 267.7 253 269.54 253.76 271.38 254.54 273.22 255.32 275.06 256.12 276.89 256.93 278.72 257.75 280.55 258.58 282.38 259.43 284.21 260.28 286.03 261.14 287.85 262.01 289.67 262.88 291.49 263.77 293.31 264.66 295.13 265.57 296.94 266.47 298.75 267.39 300.57 268.31 302.38 269.24 304.18 270.17 305.99 271.11 307.8 272.05 309.6 273 311.36 273.93 313.13 274.86 314.89 275.79 316.66 276.73 318.42 277.67 320.18 278.61 321.95 279.56 323.71 280.51 325.47 281.48 327.22 282.44 328.98 283.42 330.73 284.41 332.48 285.4 334.23 286.41 335.97 287.42 337.71 288.45 339.45 289.49 341.19 290.55 342.92 291.62 344.64 292.7 346.36 293.8 348.08 294.92 349.79 296.05 351.5 297.2 353.15 298.34 354.8 299.49 356.44 300.66 358.08 301.85 359.71 303.06 361.34 304.28 362.96 305.52 364.58 306.77 366.2 308.03 367.81 309.31 369.42 310.59 371.03 311.89 372.64 313.19 374.24 314.5 375.84 315.82 377.44 317.14 379.04 318.47 380.64 319.81 382.23 321.14 383.83 322.48 385.42 323.82 387.02 325.16 388.61 326.5 390.21 327.83 391.8 329.17 393.4 330.5 394.98 331.82 396.58 333.16 398.21 334.52 399.85 335.9 401.51 337.3 403.18 338.71 404.86 340.13 406.54 341.56 408.23 343 409.91 344.44 411.59 345.89 413.27 347.33 414.93 348.76 416.58 350.19 418.21 351.61 419.82 353.02 421.41 354.42 422.97 355.79 424.5 357.15 426 358.49 427.46 359.8 428.88 361.08 430.27 362.33 431.6 363.56 432.89 364.74 434.12 365.89 435.3 367 437.16 368.79 438.88 370.48 440.48 372.09 441.99 373.64 443.43 375.15 444.83 376.63 446.21 378.1 447.6 379.57 449.02 381.07 450.5 382.6" stroke="#231f20" stroke-width="1.8" fill="none"/>
<path d="M213.2 526.8L215.22 526.52 217.25 526.23 219.29 525.94 221.34 525.64 223.39 525.35 225.45 525.05 227.5 524.75 229.57 524.44 231.63 524.14 233.69 523.84 235.75 523.54 237.81 523.24 239.86 522.94 241.91 522.64 243.96 522.35 246 522.06 248.03 521.77 250.05 521.49 252.07 521.21 254.07 520.93 256.06 520.66 258.04 520.4 260 520.15 261.95 519.9 263.89 519.66 265.8 519.42 267.7 519.2 269.81 518.96 271.9 518.73 273.97 518.51 276.02 518.29 278.05 518.09 280.06 517.89 282.06 517.7 284.05 517.52 286.03 517.34 288 517.16 289.97 516.99 291.92 516.82 293.88 516.66 295.83 516.49 297.78 516.33 299.74 516.16 301.7 515.99 303.66 515.82 305.63 515.65 307.61 515.48 309.6 515.3 311.59 515.12 313.59 514.93 315.58 514.75 317.58 514.57 319.57 514.38 321.57 514.19 323.56 514.01 325.56 513.82 327.55 513.64 329.55 513.45 331.54 513.27 333.54 513.09 335.53 512.91 337.53 512.74 339.53 512.56 341.52 512.39 343.52 512.23 345.51 512.06 347.51 511.9 349.5 511.75 351.5 511.6 353.59 511.45 355.69 511.3 357.78 511.16 359.88 511.02 361.97 510.88 364.07 510.75 366.16 510.62 368.26 510.5 370.35 510.38 372.45 510.26 374.54 510.14 376.64 510.02 378.73 509.91 380.83 509.79 382.92 509.68 385.02 509.56 387.11 509.45 389.21 509.33 391.3 509.22 393.4 509.1 395.49 508.98 397.59 508.87 399.68 508.75 401.78 508.63 403.87 508.51 405.97 508.4 408.06 508.28 410.16 508.17 412.25 508.06 414.35 507.94 416.44 507.83 418.54 507.72 420.63 507.61 422.73 507.51 424.82 507.4 426.92 507.3 429.01 507.19 431.11 507.09 433.2 507 435.3 506.9 437.39 506.81 439.49 506.72 441.58 506.63 443.68 506.54 445.77 506.46 447.87 506.38 449.96 506.3 452.06 506.22 454.15 506.14 456.25 506.06 458.34 505.99 460.44 505.91 462.53 505.84 464.63 505.76 466.72 505.69 468.82 505.61 470.91 505.53 473.01 505.46 475.1 505.38 477.2 505.3" stroke="#231f20" stroke-width="1.7" fill="none"/>
<path d="M213.2 530.3L215.22 530.02 217.25 529.73 219.29 529.44 221.34 529.15 223.39 528.85 225.45 528.55 227.5 528.25 229.57 527.95 231.63 527.65 233.69 527.35 235.75 527.05 237.81 526.75 239.86 526.45 241.91 526.16 243.96 525.86 246 525.57 248.03 525.29 250.05 525 252.07 524.72 254.07 524.45 256.06 524.18 258.04 523.92 260 523.66 261.95 523.41 263.89 523.16 265.8 522.93 267.7 522.7 269.81 522.45 271.9 522.21 273.97 521.98 276.02 521.75 278.05 521.53 280.06 521.32 282.06 521.11 284.05 520.91 286.03 520.71 288 520.52 289.96 520.33 291.92 520.15 293.88 519.97 295.83 519.79 297.78 519.61 299.74 519.44 301.7 519.27 303.66 519.1 305.63 518.93 307.61 518.77 309.6 518.6 311.59 518.43 313.59 518.27 315.58 518.11 317.58 517.95 319.57 517.8 321.57 517.65 323.56 517.5 325.56 517.35 327.55 517.21 329.55 517.06 331.54 516.93 333.54 516.79 335.53 516.66 337.53 516.53 339.52 516.4 341.52 516.27 343.52 516.15 345.51 516.04 347.51 515.92 349.5 515.81 351.5 515.7 353.59 515.59 355.69 515.49 357.78 515.39 359.88 515.29 361.97 515.2 364.07 515.11 366.16 515.03 368.26 514.95 370.35 514.87 372.45 514.79 374.54 514.72 376.64 514.65 378.73 514.58 380.83 514.51 382.92 514.44 385.02 514.37 387.11 514.31 389.21 514.24 391.3 514.17 393.4 514.1 395.49 514.03 397.59 513.96 399.68 513.9 401.78 513.83 403.87 513.77 405.97 513.7 408.06 513.64 410.16 513.58 412.25 513.52 414.35 513.46 416.44 513.4 418.54 513.35 420.63 513.29 422.73 513.23 424.82 513.18 426.92 513.12 429.01 513.07 431.11 513.01 433.2 512.96 435.3 512.9 437.39 512.85 439.49 512.79 441.58 512.74 443.68 512.69 445.77 512.64 447.87 512.59 449.96 512.54 452.06 512.49 454.15 512.44 456.25 512.39 458.34 512.34 460.44 512.29 462.53 512.24 464.63 512.19 466.72 512.15 468.82 512.1 470.91 512.05 473.01 512 475.1 511.95 477.2 511.9" stroke="#231f20" stroke-width="1.7" fill="none"/>
<path d="M213.2 535.4L215.22 535.1 217.25 534.8 219.29 534.49 221.34 534.17 223.39 533.85 225.44 533.53 227.5 533.21 229.56 532.88 231.62 532.56 233.69 532.23 235.75 531.91 237.8 531.58 239.86 531.26 241.91 530.94 243.96 530.63 245.99 530.32 248.03 530.01 250.05 529.71 252.06 529.42 254.07 529.14 256.06 528.86 258.04 528.59 260 528.33 261.95 528.08 263.88 527.84 265.8 527.61 267.7 527.4 269.81 527.17 271.9 526.96 273.96 526.76 276.01 526.57 278.04 526.39 280.06 526.22 282.06 526.06 284.05 525.91 286.03 525.77 288 525.63 289.96 525.5 291.92 525.38 293.87 525.25 295.83 525.13 297.78 525.01 299.74 524.9 301.7 524.78 303.66 524.66 305.63 524.55 307.61 524.42 309.6 524.3 311.69 524.17 313.79 524.04 315.88 523.91 317.98 523.79 320.07 523.67 322.17 523.55 324.26 523.43 326.36 523.31 328.45 523.2 330.55 523.09 332.64 522.98 334.74 522.87 336.83 522.77 338.93 522.67 341.02 522.57 343.12 522.47 345.21 522.37 347.31 522.28 349.4 522.19 351.5 522.1 353.59 522.01 355.69 521.93 357.78 521.85 359.88 521.77 361.97 521.69 364.07 521.61 366.16 521.54 368.26 521.47 370.35 521.4 372.45 521.33 374.54 521.27 376.64 521.2 378.73 521.15 380.83 521.09 382.92 521.03 385.02 520.98 387.11 520.93 389.21 520.89 391.3 520.84 393.4 520.8 395.52 520.76 397.68 520.73 399.87 520.7 402.09 520.67 404.33 520.65 406.58 520.62 408.83 520.61 411.09 520.59 413.33 520.58 415.56 520.56 417.76 520.55 419.93 520.55 422.06 520.54 424.15 520.53 426.18 520.53 428.15 520.52 430.06 520.52 431.89 520.51 433.64 520.51 435.3 520.5 437.71 520.49 439.93 520.49 442 520.49 443.97 520.49 445.88 520.49 447.78 520.5 449.7 520.5 451.7 520.5" stroke="#231f20" stroke-width="1.7" fill="none"/>
<path d="M213.2 645.9L215.22 645.91 217.26 645.93 219.29 645.94 221.34 645.96 223.39 645.98 225.45 645.99 227.51 646.01 229.57 646.03 231.63 646.05 233.69 646.07 235.76 646.09 237.82 646.11 239.87 646.13 241.92 646.15 243.97 646.16 246.01 646.18 248.04 646.19 250.06 646.2 252.08 646.21 254.08 646.22 256.07 646.23 258.05 646.23 260.01 646.23 261.96 646.23 263.89 646.22 265.8 646.21 267.7 646.2 269.92 646.18 272.11 646.16 274.28 646.13 276.43 646.1 278.56 646.07 280.67 646.03 282.77 645.99 284.86 645.95 286.93 645.91 288.99 645.86 291.05 645.81 293.11 645.76 295.15 645.71 297.2 645.66 299.25 645.6 301.31 645.54 303.37 645.48 305.44 645.42 307.51 645.36 309.6 645.3 311.71 645.24 313.86 645.17 316.02 645.1 318.21 645.03 320.41 644.96 322.63 644.89 324.84 644.82 327.05 644.74 329.26 644.66 331.45 644.58 333.63 644.5 335.78 644.42 337.9 644.33 339.99 644.25 342.04 644.16 344.05 644.07 346 643.98 347.9 643.89 349.73 643.79 351.5 643.7 353.88 643.57 356.14 643.43 358.3 643.29 360.38 643.16 362.4 643.01 364.39 642.86 366.36 642.71 368.33 642.55 370.34 642.38 372.4 642.2 374.5 642.01 376.6 641.82 378.7 641.62 380.8 641.41 382.9 641.19 385.01 640.97 387.11 640.74 389.21 640.5 391.3 640.26 393.4 640 395.49 639.74 397.59 639.46 399.68 639.18 401.77 638.89 403.86 638.59 405.95 638.29 408.03 637.98 410.12 637.66 412.21 637.33 414.3 637 416.4 636.67 418.5 636.33 420.61 636 422.71 635.66 424.82 635.31 426.92 634.95 429.02 634.57 431.12 634.17 433.21 633.75 435.3 633.3 437.43 632.82 439.59 632.32 441.77 631.8 443.95 631.25 446.12 630.69 448.26 630.12 450.35 629.53 452.38 628.93 454.34 628.32 456.2 627.7 458.54 626.88 460.78 626.04 462.91 625.19 464.96 624.3 466.92 623.37 468.8 622.4 470.63 621.33 472.32 620.2 473.95 619.03 475.56 617.86 477.2 616.7" stroke="#231f20" stroke-width="1.7" fill="none"/>
<text x="233" y="158.1" font-size="10.2" text-anchor="middle" fill="#2e2a2b" letter-spacing="-0.4">55</text>
<text x="256.4" y="165.6" font-size="10.2" text-anchor="middle" fill="#2e2a2b" letter-spacing="-0.4">60</text>
<text x="288.8" y="179.2" font-size="10.2" text-anchor="middle" fill="#2e2a2b" letter-spacing="-0.4">65</text>
<text x="313.5" y="191.1" font-size="10.2" text-anchor="middle" fill="#2e2a2b" letter-spacing="-0.4">68</text>
<text x="333.1" y="200" font-size="10.2" text-anchor="middle" fill="#2e2a2b" letter-spacing="-0.4">70</text>
<text x="348" y="210.6" font-size="10.2" text-anchor="middle" fill="#2e2a2b" letter-spacing="-0.4">71</text>
<text x="359.7" y="218.6" font-size="10.2" text-anchor="middle" fill="#2e2a2b" letter-spacing="-0.4">72</text>
<text x="454.2" y="291.6" font-size="10.2" text-anchor="middle" fill="#2e2a2b" letter-spacing="-0.4">71</text>
<text x="465.8" y="302.4" font-size="10.2" text-anchor="middle" fill="#2e2a2b" letter-spacing="-0.4">70</text>
<text x="477.9" y="314.3" font-size="10.2" text-anchor="middle" fill="#2e2a2b" letter-spacing="-0.4">68</text>
<text x="475.7" y="355.3" font-size="10.2" text-anchor="middle" fill="#2e2a2b" letter-spacing="-0.4">65</text>
<text x="107.5" y="138.5" font-size="10.8" text-anchor="start" fill="#231f20" font-weight="bold" letter-spacing="0.1">50-200/150</text>
<text x="107.5" y="169.1" font-size="10.8" text-anchor="start" fill="#231f20" font-weight="bold" letter-spacing="0.1">50-200/110</text>
<text x="107.5" y="216.6" font-size="10.8" text-anchor="start" fill="#231f20" font-weight="bold" letter-spacing="0.1">50-200/92</text>
<text x="480.5" y="329" font-size="10.5" text-anchor="start" fill="#231f20" font-weight="bold" letter-spacing="0">175mm</text>
<text x="480.5" y="371.8" font-size="10.5" text-anchor="start" fill="#231f20" font-weight="bold" letter-spacing="0">169mm</text>
<text x="453.3" y="392" font-size="10.5" text-anchor="start" fill="#231f20" font-weight="bold" letter-spacing="0">162mm</text>
<text x="480.2" y="506.4" font-size="10.5" text-anchor="start" fill="#231f20" font-weight="bold" letter-spacing="0">175mm</text>
<text x="480.2" y="516.9" font-size="10.5" text-anchor="start" fill="#231f20" font-weight="bold" letter-spacing="0">169mm</text>
<text x="453" y="527.7" font-size="10.5" text-anchor="start" fill="#231f20" font-weight="bold" letter-spacing="0">162mm</text>
<path d="M735.5 61.8H1154.5M783.08 59.6V64M830.66 59.6V64M878.24 59.6V64M925.82 59.6V64M973.4 59.6V64M1020.98 59.6V64M1068.56 59.6V64M1116.14 59.6V64" stroke="#231f20" stroke-width="1.4" fill="none"/>
<path d="M733.4 61.8l3.5 -1.8v3.6z" fill="#231f20"/>
<text x="735.8" y="57.9" font-size="11.2" text-anchor="middle" fill="#231f20" letter-spacing="-0.5" stroke="#231f20" stroke-width="0.28">0</text>
<text x="783.38" y="57.9" font-size="11.2" text-anchor="middle" fill="#231f20" letter-spacing="-0.5" stroke="#231f20" stroke-width="0.28">50</text>
<text x="830.96" y="57.9" font-size="11.2" text-anchor="middle" fill="#231f20" letter-spacing="-0.5" stroke="#231f20" stroke-width="0.28">100</text>
<text x="878.54" y="57.9" font-size="11.2" text-anchor="middle" fill="#231f20" letter-spacing="-0.5" stroke="#231f20" stroke-width="0.28">150</text>
<text x="926.12" y="57.9" font-size="11.2" text-anchor="middle" fill="#231f20" letter-spacing="-0.5" stroke="#231f20" stroke-width="0.28">200</text>
<text x="973.7" y="57.9" font-size="11.2" text-anchor="middle" fill="#231f20" letter-spacing="-0.5" stroke="#231f20" stroke-width="0.28">250</text>
<text x="1021.28" y="57.9" font-size="11.2" text-anchor="middle" fill="#231f20" letter-spacing="-0.5" stroke="#231f20" stroke-width="0.28">300</text>
<text x="1068.86" y="57.9" font-size="11.2" text-anchor="middle" fill="#231f20" letter-spacing="-0.5" stroke="#231f20" stroke-width="0.28">350</text>
<text x="1116.44" y="57.9" font-size="11.2" text-anchor="middle" fill="#231f20" letter-spacing="-0.5" stroke="#231f20" stroke-width="0.28">400</text>
<text x="741.7" y="56.9" font-size="9.1" text-anchor="start" fill="#231f20" letter-spacing="-0.1" stroke="#231f20" stroke-width="0.22">US gpm</text>
<text x="735.8" y="80.6" font-size="11.2" text-anchor="middle" fill="#231f20" letter-spacing="-0.5" stroke="#231f20" stroke-width="0.28">0</text>
<text x="777.7" y="80.6" font-size="11.2" text-anchor="middle" fill="#231f20" letter-spacing="-0.5" stroke="#231f20" stroke-width="0.28">10</text>
<text x="819.6" y="80.6" font-size="11.2" text-anchor="middle" fill="#231f20" letter-spacing="-0.5" stroke="#231f20" stroke-width="0.28">20</text>
<text x="861.5" y="80.6" font-size="11.2" text-anchor="middle" fill="#231f20" letter-spacing="-0.5" stroke="#231f20" stroke-width="0.28">30</text>
<text x="903.4" y="80.6" font-size="11.2" text-anchor="middle" fill="#231f20" letter-spacing="-0.5" stroke="#231f20" stroke-width="0.28">40</text>
<text x="945.3" y="80.6" font-size="11.2" text-anchor="middle" fill="#231f20" letter-spacing="-0.5" stroke="#231f20" stroke-width="0.28">50</text>
<text x="987.2" y="80.6" font-size="11.2" text-anchor="middle" fill="#231f20" letter-spacing="-0.5" stroke="#231f20" stroke-width="0.28">60</text>
<text x="1029.1" y="80.6" font-size="11.2" text-anchor="middle" fill="#231f20" letter-spacing="-0.5" stroke="#231f20" stroke-width="0.28">70</text>
<text x="1071" y="80.6" font-size="11.2" text-anchor="middle" fill="#231f20" letter-spacing="-0.5" stroke="#231f20" stroke-width="0.28">80</text>
<text x="1112.9" y="80.6" font-size="11.2" text-anchor="middle" fill="#231f20" letter-spacing="-0.5" stroke="#231f20" stroke-width="0.28">90</text>
<text x="1154.8" y="80.6" font-size="11.2" text-anchor="middle" fill="#231f20" letter-spacing="-0.5" stroke="#231f20" stroke-width="0.28">100</text>
<text x="743.9" y="80.6" font-size="11.2" fill="#231f20" letter-spacing="0.35" stroke="#231f20" stroke-width="0.25">m<tspan font-size="5.5" dy="-4.6">3</tspan><tspan dy="4.6">/h</tspan></text>
<path d="M743.88 84.8V425.2M752.26 84.8V425.2M760.64 84.8V425.2M769.02 84.8V425.2M785.78 84.8V425.2M794.16 84.8V425.2M802.54 84.8V425.2M810.92 84.8V425.2M827.68 84.8V425.2M836.06 84.8V425.2M844.44 84.8V425.2M852.82 84.8V425.2M869.58 84.8V425.2M877.96 84.8V425.2M886.34 84.8V425.2M894.72 84.8V425.2M911.48 84.8V425.2M919.86 84.8V425.2M928.24 84.8V425.2M936.62 84.8V425.2M953.38 84.8V425.2M961.76 84.8V425.2M970.14 84.8V425.2M978.52 84.8V425.2M995.28 84.8V425.2M1003.66 84.8V425.2M1012.04 84.8V425.2M1020.42 84.8V425.2M1037.18 84.8V425.2M1045.56 84.8V425.2M1053.94 84.8V425.2M1062.32 84.8V425.2M1079.08 84.8V425.2M1087.46 84.8V425.2M1095.84 84.8V425.2M1104.22 84.8V425.2M1120.98 84.8V425.2M1129.36 84.8V425.2M1137.74 84.8V425.2M1146.12 84.8V425.2M735.5 91.61H1154.5M735.5 98.42H1154.5M735.5 105.22H1154.5M735.5 112.03H1154.5M735.5 125.65H1154.5M735.5 132.46H1154.5M735.5 139.26H1154.5M735.5 146.07H1154.5M735.5 159.69H1154.5M735.5 166.5H1154.5M735.5 173.3H1154.5M735.5 180.11H1154.5M735.5 193.73H1154.5M735.5 200.54H1154.5M735.5 207.34H1154.5M735.5 214.15H1154.5M735.5 227.77H1154.5M735.5 234.58H1154.5M735.5 241.38H1154.5M735.5 248.19H1154.5M735.5 261.81H1154.5M735.5 268.62H1154.5M735.5 275.42H1154.5M735.5 282.23H1154.5M735.5 295.85H1154.5M735.5 302.66H1154.5M735.5 309.46H1154.5M735.5 316.27H1154.5M735.5 329.89H1154.5M735.5 336.7H1154.5M735.5 343.5H1154.5M735.5 350.31H1154.5M735.5 363.93H1154.5M735.5 370.74H1154.5M735.5 377.54H1154.5M735.5 384.35H1154.5M735.5 397.97H1154.5M735.5 404.78H1154.5M735.5 411.58H1154.5M735.5 418.39H1154.5" stroke="#e0e0e2" stroke-width="1" fill="none"/>
<path d="M735.5 84.1V425.9M777.4 84.1V425.9M819.3 84.1V425.9M861.2 84.1V425.9M903.1 84.1V425.9M945 84.1V425.9M986.9 84.1V425.9M1028.8 84.1V425.9M1070.7 84.1V425.9M1112.6 84.1V425.9M1154.5 84.1V425.9M734.8 84.8H1155.2M734.8 118.84H1155.2M734.8 152.88H1155.2M734.8 186.92H1155.2M734.8 220.96H1155.2M734.8 255H1155.2M734.8 289.04H1155.2M734.8 323.08H1155.2M734.8 357.12H1155.2M734.8 391.16H1155.2M734.8 425.2H1155.2" stroke="#231f20" stroke-width="1.55" fill="none"/>
<path d="M743.88 471.8V565.4M752.26 471.8V565.4M760.64 471.8V565.4M769.02 471.8V565.4M785.78 471.8V565.4M794.16 471.8V565.4M802.54 471.8V565.4M810.92 471.8V565.4M827.68 471.8V565.4M836.06 471.8V565.4M844.44 471.8V565.4M852.82 471.8V565.4M869.58 471.8V565.4M877.96 471.8V565.4M886.34 471.8V565.4M894.72 471.8V565.4M911.48 471.8V565.4M919.86 471.8V565.4M928.24 471.8V565.4M936.62 471.8V565.4M953.38 471.8V565.4M961.76 471.8V565.4M970.14 471.8V565.4M978.52 471.8V565.4M995.28 471.8V565.4M1003.66 471.8V565.4M1012.04 471.8V565.4M1020.42 471.8V565.4M1037.18 471.8V565.4M1045.56 471.8V565.4M1053.94 471.8V565.4M1062.32 471.8V565.4M1079.08 471.8V565.4M1087.46 471.8V565.4M1095.84 471.8V565.4M1104.22 471.8V565.4M1120.98 471.8V565.4M1129.36 471.8V565.4M1137.74 471.8V565.4M1146.12 471.8V565.4M735.5 478.04H1154.5M735.5 484.28H1154.5M735.5 490.52H1154.5M735.5 496.76H1154.5M735.5 509.24H1154.5M735.5 515.48H1154.5M735.5 521.72H1154.5M735.5 527.96H1154.5M735.5 540.44H1154.5M735.5 546.68H1154.5M735.5 552.92H1154.5M735.5 559.16H1154.5" stroke="#e0e0e2" stroke-width="1" fill="none"/>
<path d="M735.5 471.1V566.1M777.4 471.1V566.1M819.3 471.1V566.1M861.2 471.1V566.1M903.1 471.1V566.1M945 471.1V566.1M986.9 471.1V566.1M1028.8 471.1V566.1M1070.7 471.1V566.1M1112.6 471.1V566.1M1154.5 471.1V566.1M734.8 471.8H1155.2M734.8 503H1155.2M734.8 534.2H1155.2M734.8 565.4H1155.2" stroke="#231f20" stroke-width="1.55" fill="none"/>
<path d="M743.88 586.6V657.8M752.26 586.6V657.8M760.64 586.6V657.8M769.02 586.6V657.8M785.78 586.6V657.8M794.16 586.6V657.8M802.54 586.6V657.8M810.92 586.6V657.8M827.68 586.6V657.8M836.06 586.6V657.8M844.44 586.6V657.8M852.82 586.6V657.8M869.58 586.6V657.8M877.96 586.6V657.8M886.34 586.6V657.8M894.72 586.6V657.8M911.48 586.6V657.8M919.86 586.6V657.8M928.24 586.6V657.8M936.62 586.6V657.8M953.38 586.6V657.8M961.76 586.6V657.8M970.14 586.6V657.8M978.52 586.6V657.8M995.28 586.6V657.8M1003.66 586.6V657.8M1012.04 586.6V657.8M1020.42 586.6V657.8M1037.18 586.6V657.8M1045.56 586.6V657.8M1053.94 586.6V657.8M1062.32 586.6V657.8M1079.08 586.6V657.8M1087.46 586.6V657.8M1095.84 586.6V657.8M1104.22 586.6V657.8M1120.98 586.6V657.8M1129.36 586.6V657.8M1137.74 586.6V657.8M1146.12 586.6V657.8M735.5 598.47H1154.5M735.5 610.33H1154.5M735.5 634.07H1154.5M735.5 645.93H1154.5" stroke="#e0e0e2" stroke-width="1" fill="none"/>
<path d="M735.5 585.9V658.5M777.4 585.9V658.5M819.3 585.9V658.5M861.2 585.9V658.5M903.1 585.9V658.5M945 585.9V658.5M986.9 585.9V658.5M1028.8 585.9V658.5M1070.7 585.9V658.5M1112.6 585.9V658.5M1154.5 585.9V658.5M734.8 586.6H1155.2M734.8 622.2H1155.2M734.8 657.8H1155.2" stroke="#231f20" stroke-width="1.55" fill="none"/>
<path d="M733.1 84.8H735.5M733.1 118.84H735.5M733.1 152.88H735.5M733.1 186.92H735.5M733.1 220.96H735.5M733.1 255H735.5M733.1 289.04H735.5M733.1 323.08H735.5M733.1 357.12H735.5M733.1 391.16H735.5M733.1 425.2H735.5M733.1 471.8H735.5M733.1 503H735.5M733.1 534.2H735.5M733.1 565.4H735.5M733.1 586.6H735.5M733.1 622.2H735.5M733.1 657.8H735.5M735.5 425.2V428.4M735.5 657.8V661M777.4 425.2V428.4M777.4 657.8V661M819.3 425.2V428.4M819.3 657.8V661M861.2 425.2V428.4M861.2 657.8V661M903.1 425.2V428.4M903.1 657.8V661M945 425.2V428.4M945 657.8V661M986.9 425.2V428.4M986.9 657.8V661M1028.8 425.2V428.4M1028.8 657.8V661M1070.7 425.2V428.4M1070.7 657.8V661M1112.6 425.2V428.4M1112.6 657.8V661M1154.5 425.2V428.4M1154.5 657.8V661" stroke="#231f20" stroke-width="1.55" fill="none"/>
<text x="730.9" y="426.6" font-size="11.2" text-anchor="end" fill="#231f20" letter-spacing="-0.5" stroke="#231f20" stroke-width="0.28">0</text>
<text x="730.9" y="392.56" font-size="11.2" text-anchor="end" fill="#231f20" letter-spacing="-0.5" stroke="#231f20" stroke-width="0.28">10</text>
<text x="730.9" y="358.52" font-size="11.2" text-anchor="end" fill="#231f20" letter-spacing="-0.5" stroke="#231f20" stroke-width="0.28">20</text>
<text x="730.9" y="324.48" font-size="11.2" text-anchor="end" fill="#231f20" letter-spacing="-0.5" stroke="#231f20" stroke-width="0.28">30</text>
<text x="730.9" y="290.44" font-size="11.2" text-anchor="end" fill="#231f20" letter-spacing="-0.5" stroke="#231f20" stroke-width="0.28">40</text>
<text x="730.9" y="256.4" font-size="11.2" text-anchor="end" fill="#231f20" letter-spacing="-0.5" stroke="#231f20" stroke-width="0.28">50</text>
<text x="730.9" y="222.36" font-size="11.2" text-anchor="end" fill="#231f20" letter-spacing="-0.5" stroke="#231f20" stroke-width="0.28">60</text>
<text x="730.9" y="188.32" font-size="11.2" text-anchor="end" fill="#231f20" letter-spacing="-0.5" stroke="#231f20" stroke-width="0.28">70</text>
<text x="730.9" y="154.28" font-size="11.2" text-anchor="end" fill="#231f20" letter-spacing="-0.5" stroke="#231f20" stroke-width="0.28">80</text>
<text x="730.9" y="120.24" font-size="11.2" text-anchor="end" fill="#231f20" letter-spacing="-0.5" stroke="#231f20" stroke-width="0.28">90</text>
<text x="730.9" y="566.9" font-size="11.2" text-anchor="end" fill="#231f20" letter-spacing="-0.5" stroke="#231f20" stroke-width="0.28">0</text>
<text x="730.9" y="535.7" font-size="11.2" text-anchor="end" fill="#231f20" letter-spacing="-0.5" stroke="#231f20" stroke-width="0.28">10</text>
<text x="730.9" y="504.5" font-size="11.2" text-anchor="end" fill="#231f20" letter-spacing="-0.5" stroke="#231f20" stroke-width="0.28">20</text>
<text x="730.9" y="473.3" font-size="11.2" text-anchor="end" fill="#231f20" letter-spacing="-0.5" stroke="#231f20" stroke-width="0.28">30</text>
<text x="730.9" y="659.2" font-size="11.2" text-anchor="end" fill="#231f20" letter-spacing="-0.5" stroke="#231f20" stroke-width="0.28">0</text>
<text x="730.9" y="623.59" font-size="11.2" text-anchor="end" fill="#231f20" letter-spacing="-0.5" stroke="#231f20" stroke-width="0.28">3</text>
<text x="730.9" y="587.98" font-size="11.2" text-anchor="end" fill="#231f20" letter-spacing="-0.5" stroke="#231f20" stroke-width="0.28">6</text>
<text x="735.8" y="440.2" font-size="11.2" text-anchor="middle" fill="#231f20" letter-spacing="-0.5" stroke="#231f20" stroke-width="0.28">0</text>
<text x="735.8" y="672.6" font-size="11.2" text-anchor="middle" fill="#231f20" letter-spacing="-0.5" stroke="#231f20" stroke-width="0.28">0</text>
<text x="777.7" y="440.2" font-size="11.2" text-anchor="middle" fill="#231f20" letter-spacing="-0.5" stroke="#231f20" stroke-width="0.28">10</text>
<text x="777.7" y="672.6" font-size="11.2" text-anchor="middle" fill="#231f20" letter-spacing="-0.5" stroke="#231f20" stroke-width="0.28">10</text>
<text x="819.6" y="440.2" font-size="11.2" text-anchor="middle" fill="#231f20" letter-spacing="-0.5" stroke="#231f20" stroke-width="0.28">20</text>
<text x="819.6" y="672.6" font-size="11.2" text-anchor="middle" fill="#231f20" letter-spacing="-0.5" stroke="#231f20" stroke-width="0.28">20</text>
<text x="861.5" y="440.2" font-size="11.2" text-anchor="middle" fill="#231f20" letter-spacing="-0.5" stroke="#231f20" stroke-width="0.28">30</text>
<text x="861.5" y="672.6" font-size="11.2" text-anchor="middle" fill="#231f20" letter-spacing="-0.5" stroke="#231f20" stroke-width="0.28">30</text>
<text x="903.4" y="440.2" font-size="11.2" text-anchor="middle" fill="#231f20" letter-spacing="-0.5" stroke="#231f20" stroke-width="0.28">40</text>
<text x="903.4" y="672.6" font-size="11.2" text-anchor="middle" fill="#231f20" letter-spacing="-0.5" stroke="#231f20" stroke-width="0.28">40</text>
<text x="945.3" y="440.2" font-size="11.2" text-anchor="middle" fill="#231f20" letter-spacing="-0.5" stroke="#231f20" stroke-width="0.28">50</text>
<text x="945.3" y="672.6" font-size="11.2" text-anchor="middle" fill="#231f20" letter-spacing="-0.5" stroke="#231f20" stroke-width="0.28">50</text>
<text x="987.2" y="440.2" font-size="11.2" text-anchor="middle" fill="#231f20" letter-spacing="-0.5" stroke="#231f20" stroke-width="0.28">60</text>
<text x="987.2" y="672.6" font-size="11.2" text-anchor="middle" fill="#231f20" letter-spacing="-0.5" stroke="#231f20" stroke-width="0.28">60</text>
<text x="1029.1" y="440.2" font-size="11.2" text-anchor="middle" fill="#231f20" letter-spacing="-0.5" stroke="#231f20" stroke-width="0.28">70</text>
<text x="1029.1" y="672.6" font-size="11.2" text-anchor="middle" fill="#231f20" letter-spacing="-0.5" stroke="#231f20" stroke-width="0.28">70</text>
<text x="1071" y="440.2" font-size="11.2" text-anchor="middle" fill="#231f20" letter-spacing="-0.5" stroke="#231f20" stroke-width="0.28">80</text>
<text x="1071" y="672.6" font-size="11.2" text-anchor="middle" fill="#231f20" letter-spacing="-0.5" stroke="#231f20" stroke-width="0.28">80</text>
<text x="1112.9" y="440.2" font-size="11.2" text-anchor="middle" fill="#231f20" letter-spacing="-0.5" stroke="#231f20" stroke-width="0.28">90</text>
<text x="1112.9" y="672.6" font-size="11.2" text-anchor="middle" fill="#231f20" letter-spacing="-0.5" stroke="#231f20" stroke-width="0.28">90</text>
<text x="1154.8" y="440.2" font-size="11.2" text-anchor="middle" fill="#231f20" letter-spacing="-0.5" stroke="#231f20" stroke-width="0.28">100</text>
<text x="1154.8" y="672.6" font-size="11.2" text-anchor="middle" fill="#231f20" letter-spacing="-0.5" stroke="#231f20" stroke-width="0.28">100</text>
<text x="945" y="456.2" font-size="10.1" text-anchor="middle" fill="#231f20" letter-spacing="-0.15" stroke="#231f20" stroke-width="0.22">Flow/<tspan font-style="italic">Caudal/Débit</tspan> Q(m<tspan font-size="5" dy="-3.6">3</tspan><tspan dy="3.6">/h)</tspan></text>
<text x="945" y="686.6" font-size="10.1" text-anchor="middle" fill="#231f20" letter-spacing="-0.15" stroke="#231f20" stroke-width="0.22">Flow/<tspan font-style="italic">Caudal/Débit</tspan> Q(m<tspan font-size="5" dy="-3.6">3</tspan><tspan dy="3.6">/h)</tspan></text>
<text x="945" y="733.2" font-size="10.1" text-anchor="middle" fill="#231f20" letter-spacing="-0.15" stroke="#231f20" stroke-width="0.22">Flow/<tspan font-style="italic">Caudal/Débit</tspan> &#160;US gpm</text>
<path d="M735.5 704.5H1154.5M783.08 702.3V706.7M830.66 702.3V706.7M878.24 702.3V706.7M925.82 702.3V706.7M973.4 702.3V706.7M1020.98 702.3V706.7M1068.56 702.3V706.7M1116.14 702.3V706.7" stroke="#231f20" stroke-width="1.4" fill="none"/>
<path d="M733.4 704.5l3.5 -1.8v3.6z" fill="#231f20"/>
<text x="735.8" y="719.4" font-size="11.2" text-anchor="middle" fill="#231f20" letter-spacing="-0.5" stroke="#231f20" stroke-width="0.28">0</text>
<text x="783.38" y="719.4" font-size="11.2" text-anchor="middle" fill="#231f20" letter-spacing="-0.5" stroke="#231f20" stroke-width="0.28">50</text>
<text x="830.96" y="719.4" font-size="11.2" text-anchor="middle" fill="#231f20" letter-spacing="-0.5" stroke="#231f20" stroke-width="0.28">100</text>
<text x="878.54" y="719.4" font-size="11.2" text-anchor="middle" fill="#231f20" letter-spacing="-0.5" stroke="#231f20" stroke-width="0.28">150</text>
<text x="926.12" y="719.4" font-size="11.2" text-anchor="middle" fill="#231f20" letter-spacing="-0.5" stroke="#231f20" stroke-width="0.28">200</text>
<text x="973.7" y="719.4" font-size="11.2" text-anchor="middle" fill="#231f20" letter-spacing="-0.5" stroke="#231f20" stroke-width="0.28">250</text>
<text x="1021.28" y="719.4" font-size="11.2" text-anchor="middle" fill="#231f20" letter-spacing="-0.5" stroke="#231f20" stroke-width="0.28">300</text>
<text x="1068.86" y="719.4" font-size="11.2" text-anchor="middle" fill="#231f20" letter-spacing="-0.5" stroke="#231f20" stroke-width="0.28">350</text>
<text x="1116.44" y="719.4" font-size="11.2" text-anchor="middle" fill="#231f20" letter-spacing="-0.5" stroke="#231f20" stroke-width="0.28">400</text>
<text x="677.9" y="426.9" font-size="11.2" text-anchor="end" fill="#231f20" letter-spacing="-0.5" stroke="#231f20" stroke-width="0.28">0</text>
<text x="677.9" y="385.41" font-size="11.2" text-anchor="end" fill="#231f20" letter-spacing="-0.5" stroke="#231f20" stroke-width="0.28">40</text>
<text x="677.9" y="343.92" font-size="11.2" text-anchor="end" fill="#231f20" letter-spacing="-0.5" stroke="#231f20" stroke-width="0.28">80</text>
<text x="679.3" y="302.44" font-size="11.2" text-anchor="end" fill="#231f20" letter-spacing="0.2" stroke="#231f20" stroke-width="0.28">120</text>
<text x="679.3" y="260.95" font-size="11.2" text-anchor="end" fill="#231f20" letter-spacing="0.2" stroke="#231f20" stroke-width="0.28">160</text>
<text x="679.3" y="219.46" font-size="11.2" text-anchor="end" fill="#231f20" letter-spacing="0.2" stroke="#231f20" stroke-width="0.28">200</text>
<text x="679.3" y="177.97" font-size="11.2" text-anchor="end" fill="#231f20" letter-spacing="0.2" stroke="#231f20" stroke-width="0.28">240</text>
<text x="679.3" y="136.48" font-size="11.2" text-anchor="end" fill="#231f20" letter-spacing="0.2" stroke="#231f20" stroke-width="0.28">280</text>
<text x="679.3" y="95" font-size="11.2" text-anchor="end" fill="#231f20" letter-spacing="0.2" stroke="#231f20" stroke-width="0.28">320</text>
<text x="677.9" y="567.1" font-size="11.2" text-anchor="end" fill="#231f20" letter-spacing="-0.5" stroke="#231f20" stroke-width="0.28">0</text>
<text x="677.9" y="544" font-size="11.2" text-anchor="end" fill="#231f20" letter-spacing="-0.5" stroke="#231f20" stroke-width="0.28">10</text>
<text x="677.9" y="520.9" font-size="11.2" text-anchor="end" fill="#231f20" letter-spacing="-0.5" stroke="#231f20" stroke-width="0.28">20</text>
<text x="677.9" y="497.8" font-size="11.2" text-anchor="end" fill="#231f20" letter-spacing="-0.5" stroke="#231f20" stroke-width="0.28">30</text>
<text x="677.9" y="474.7" font-size="11.2" text-anchor="end" fill="#231f20" letter-spacing="-0.5" stroke="#231f20" stroke-width="0.28">40</text>
<text x="677.9" y="659.5" font-size="11.2" text-anchor="end" fill="#231f20" letter-spacing="-0.5" stroke="#231f20" stroke-width="0.28">0</text>
<text x="677.9" y="641.35" font-size="11.2" text-anchor="end" fill="#231f20" letter-spacing="-0.5" stroke="#231f20" stroke-width="0.28">5</text>
<text x="677.9" y="623.2" font-size="11.2" text-anchor="end" fill="#231f20" letter-spacing="-0.5" stroke="#231f20" stroke-width="0.28">10</text>
<text x="677.9" y="605.05" font-size="11.2" text-anchor="end" fill="#231f20" letter-spacing="-0.5" stroke="#231f20" stroke-width="0.28">15</text>
<path d="M682.5 84.8V425.2M680.3 425.2H685.1M680.3 404.46H685.1M680.3 383.71H685.1M680.3 362.97H685.1M680.3 342.22H685.1M680.3 321.48H685.1M680.3 300.74H685.1M680.3 279.99H685.1M680.3 259.25H685.1M680.3 238.5H685.1M680.3 217.76H685.1M680.3 197.02H685.1M680.3 176.27H685.1M680.3 155.53H685.1M680.3 134.78H685.1M680.3 114.04H685.1M680.3 93.3H685.1M682.5 471.8V565.4M680.3 565.4H685.1M680.3 542.3H685.1M680.3 519.2H685.1M680.3 496.1H685.1M680.3 473H685.1M682.5 586.6V657.8M680.3 657.8H685.1M680.3 639.65H685.1M680.3 621.5H685.1M680.3 603.35H685.1" stroke="#231f20" stroke-width="1.3" fill="none"/>
<text x="656.5" y="259.5" font-size="9.6" text-anchor="middle" fill="#231f20" letter-spacing="0.2" stroke="#231f20" stroke-width="0.22" transform="rotate(-90 656.5 259.5)">Head/<tspan font-style="italic">Altura/Hauteur</tspan>(ft)</text>
<text x="709.5" y="258.2" font-size="9.6" text-anchor="middle" fill="#231f20" letter-spacing="0.2" stroke="#231f20" stroke-width="0.22" transform="rotate(-90 709.5 258.2)">Head/<tspan font-style="italic">Altura/Hauteur</tspan>(m)</text>
<text x="657.1" y="518.2" font-size="11.5" text-anchor="middle" fill="#231f20" transform="rotate(-90 657.1 518.2)" stroke="#231f20" stroke-width="0.22">hp</text>
<text x="710.7" y="518.5" font-size="11.5" text-anchor="middle" fill="#231f20" transform="rotate(-90 710.7 518.5)" stroke="#231f20" stroke-width="0.22">kW</text>
<text x="657.5" y="622.2" font-size="11.5" text-anchor="middle" fill="#231f20" transform="rotate(-90 657.5 622.2)" stroke="#231f20" stroke-width="0.22">ft</text>
<text x="709" y="622.2" font-size="11.5" text-anchor="middle" fill="#231f20" transform="rotate(-90 709 622.2)" stroke="#231f20" stroke-width="0.22">m</text>
<text x="1177.1" y="270.9" font-size="13" text-anchor="middle" fill="#231f20" letter-spacing="-0.3" transform="rotate(-90 1177.1 270.9)" stroke="#231f20" stroke-width="0.22">H-Q</text>
<text x="1177.1" y="518.7" font-size="13" text-anchor="middle" fill="#231f20" letter-spacing="-0.5" transform="rotate(-90 1177.1 518.7)" stroke="#231f20" stroke-width="0.22">P-Q</text>
<text x="1177.1" y="623.6" font-size="13" text-anchor="middle" fill="#231f20" letter-spacing="-0.5" transform="rotate(-90 1177.1 623.6)" stroke="#231f20" stroke-width="0.22">NPSHr</text>
<text x="913.1" y="30" font-size="16.2" text-anchor="middle" fill="#231f20" font-weight="bold" letter-spacing="0.95" stroke="#231f20" stroke-width="0.3">50-250</text>
<text x="1149.5" y="27.8" font-size="14.8" text-anchor="middle" fill="#231f20">2900rpm</text>
<rect x="1044.5" y="84.8" width="110" height="40.3" fill="#fff" stroke="#231f20" stroke-width="1.45"/>
<path d="M1044.5 101.6H1154.5M1044.5 113.6H1154.5" stroke="#555" stroke-width="0.9" fill="none"/>
<text x="1099.8" y="97.5" font-size="10.3" text-anchor="middle" fill="#2a2627" letter-spacing="0" stroke="#2a2627" stroke-width="0.2">IMPELLER DIA.</text>
<text y="110.5" font-size="9" letter-spacing="1" fill="#2a2627" stroke="#2a2627" stroke-width="0.2"><tspan x="1065.2">Max.</tspan><tspan x="1095.5">214</tspan><tspan x="1117.2">mm</tspan></text>
<text y="122.5" font-size="9" letter-spacing="1" fill="#2a2627" stroke="#2a2627" stroke-width="0.2"><tspan x="1065.2">Min.</tspan><tspan x="1095.5">190</tspan><tspan x="1117.2">mm</tspan></text>
<path d="M886.2 113.2L885.51 115.09 884.83 116.99 884.14 118.88 883.45 120.77 882.76 122.67 882.07 124.56 881.38 126.46 880.69 128.35 880.01 130.24 879.33 132.13 878.65 134.02 877.97 135.91 877.3 137.8 876.58 139.83 875.85 141.87 875.11 143.92 874.38 145.98 873.64 148.03 872.92 150.08 872.2 152.12 871.5 154.14 870.81 156.14 870.15 158.13 869.51 160.08 868.9 162 868.21 164.22 867.53 166.41 866.87 168.59 866.24 170.73 865.63 172.85 865.06 174.94 864.53 177 864.04 179.02 863.6 181 863.19 183.1 862.86 185.14 862.58 187.13 862.34 189.1 862.1 191.06 861.87 193.02 861.6 195" stroke="#2b2728" stroke-width="0.95" fill="none"/>
<path d="M915.9 118.2L915.31 120.11 914.72 122.01 914.13 123.91 913.54 125.8 912.96 127.69 912.38 129.58 911.8 131.47 911.22 133.36 910.63 135.26 910.05 137.15 909.46 139.04 908.88 140.94 908.29 142.84 907.69 144.75 907.1 146.66 906.5 148.58 905.89 150.51 905.28 152.44 904.66 154.38 904.03 156.34 903.4 158.3 902.8 160.15 902.19 162.01 901.58 163.88 900.96 165.75 900.34 167.64 899.71 169.53 899.08 171.42 898.45 173.32 897.81 175.23 897.17 177.14 896.52 179.05 895.87 180.97 895.22 182.89 894.58 184.81 893.92 186.74 893.27 188.66 892.62 190.59 891.97 192.51 891.32 194.43 890.67 196.35 890.03 198.27 889.38 200.18 888.74 202.09 888.1 204" stroke="#2b2728" stroke-width="0.95" fill="none"/>
<path d="M961.5 127.7L960.28 129.32 959.05 130.91 957.81 132.48 956.57 134.04 955.33 135.6 954.09 137.17 952.86 138.76 951.64 140.38 950.43 142.03 949.23 143.73 948.05 145.48 946.9 147.3 945.91 148.93 944.93 150.6 943.95 152.31 942.98 154.05 942.01 155.82 941.06 157.63 940.12 159.45 939.18 161.3 938.26 163.18 937.35 165.06 936.46 166.97 935.57 168.88 934.71 170.8 933.85 172.73 933.02 174.67 932.2 176.6 931.45 178.42 930.73 180.25 930.03 182.11 929.34 183.98 928.67 185.87 928.01 187.77 927.37 189.68 926.74 191.6 926.11 193.53 925.49 195.46 924.87 197.4 924.26 199.33 923.64 201.27 923.03 203.21 922.41 205.14 921.78 207.07 921.14 208.99 920.5 210.9" stroke="#2b2728" stroke-width="0.95" fill="none"/>
<path d="M994.3 138.6L992.53 139.79 990.73 140.93 988.91 142.05 987.08 143.15 985.26 144.25 983.44 145.36 981.64 146.5 979.86 147.69 978.12 148.94 976.43 150.27 974.78 151.68 973.2 153.2 971.83 154.65 970.48 156.18 969.15 157.8 967.85 159.47 966.57 161.21 965.32 162.99 964.1 164.81 962.91 166.66 961.75 168.53 960.63 170.41 959.54 172.28 958.49 174.15 957.49 176 956.52 177.82 955.6 179.6 954.62 181.56 953.67 183.54 952.76 185.54 951.89 187.54 951.07 189.54 950.29 191.53 949.57 193.51 948.91 195.48 948.3 197.41 947.76 199.32 947.3 201.18 946.9 203 946.55 205.13 946.35 207.19 946.26 209.21 946.24 211.2 946.27 213.17 946.32 215.13 946.34 217.1 946.3 219.1" stroke="#2b2728" stroke-width="0.95" fill="none"/>
<path d="M1026.5 149.7L1024.56 150.45 1022.6 151.15 1020.61 151.82 1018.62 152.47 1016.62 153.12 1014.62 153.77 1012.63 154.43 1010.66 155.12 1008.71 155.85 1006.8 156.63 1004.92 157.48 1003.09 158.4 1001.31 159.4 999.6 160.5 998.01 161.64 996.43 162.86 994.88 164.16 993.35 165.52 991.84 166.94 990.37 168.41 988.93 169.92 987.53 171.46 986.17 173.03 984.86 174.61 983.59 176.21 982.38 177.8 981.23 179.38 980.13 180.95 979.1 182.5 977.96 184.3 976.87 186.12 975.85 187.94 974.9 189.78 974.01 191.63 973.2 193.49 972.46 195.36 971.8 197.25 971.21 199.15 970.71 201.07 970.3 203 970 204.94 969.84 206.9 969.79 208.88 969.83 210.88 969.94 212.89 970.1 214.91 970.29 216.93 970.48 218.96 970.67 220.98 970.81 222.99 970.9 225" stroke="#2b2728" stroke-width="0.95" fill="none"/>
<path d="M1062.3 170.7L1060.26 171.39 1058.21 172.05 1056.15 172.71 1054.1 173.36 1052.05 174.04 1050.02 174.76 1048 175.54 1046 176.4 1044.17 177.24 1042.32 178.1 1040.46 179.01 1038.62 179.95 1036.8 180.93 1035.02 181.97 1033.3 183.05 1031.66 184.2 1030.1 185.4 1028.52 186.77 1027 188.21 1025.54 189.73 1024.16 191.3 1022.84 192.91 1021.59 194.56 1020.41 196.22 1019.3 197.9 1018.18 199.74 1017.13 201.62 1016.17 203.54 1015.29 205.48 1014.5 207.45 1013.8 209.42 1013.2 211.4 1012.66 213.62 1012.25 215.86 1011.97 218.12 1011.77 220.39 1011.66 222.69 1011.6 225 1011.63 227.1 1011.75 229.23 1011.94 231.38 1012.18 233.53 1012.44 235.69 1012.69 237.85 1012.9 240" stroke="#2b2728" stroke-width="0.95" fill="none"/>
<path d="M1012.9 240L1014.8 241.14 1016.67 242.29 1018.55 243.43 1020.48 244.54 1022.5 245.6 1024.4 246.56 1026.35 247.55 1028.35 248.51 1030.41 249.37 1032.52 250.09 1034.7 250.6 1036.83 250.89 1039.05 251.04 1041.33 251.05 1043.64 250.94 1045.96 250.7 1048.25 250.36 1050.5 249.9 1052.54 249.39 1054.61 248.79 1056.68 248.09 1058.73 247.3 1060.74 246.4 1062.69 245.41 1064.55 244.31 1066.3 243.1 1067.98 241.76 1069.6 240.29 1071.14 238.7 1072.61 237.02 1074 235.25 1075.3 233.39 1076.5 231.47 1077.6 229.5 1078.48 227.69 1079.3 225.77 1080.04 223.76 1080.71 221.69 1081.32 219.57 1081.85 217.44 1082.32 215.31 1082.72 213.21 1083.04 211.17 1083.3 209.2 1083.5 206.82 1083.55 204.46 1083.49 202.12 1083.34 199.83 1083.12 197.59 1082.87 195.41 1082.6 193.3 1082.23 190.91 1081.76 188.63 1081.24 186.42 1080.71 184.23 1080.2 182" stroke="#2b2728" stroke-width="0.95" fill="none"/>
<path d="M1101.4 197.9L1102.58 199.66 1103.76 201.43 1104.8 203.5 1105.42 205.26 1105.99 207.24 1106.49 209.37 1106.91 211.58 1107.25 213.82 1107.5 216 1107.65 218.21 1107.71 220.46 1107.68 222.72 1107.57 224.99 1107.37 227.25 1107.1 229.5 1106.81 231.46 1106.47 233.42 1106.07 235.38 1105.6 237.33 1105.05 239.27 1104.42 241.2 1103.7 243.1 1102.84 245.13 1101.9 247.2 1100.87 249.26 1099.75 251.28 1098.51 253.22 1097.17 255.04 1095.7 256.7 1094.09 258.22 1092.33 259.64 1090.46 260.95 1088.48 262.15 1086.44 263.24 1084.33 264.23 1082.2 265.1 1080.16 265.77 1078.04 266.3 1075.85 266.7 1073.61 267.02 1071.35 267.3 1069.08 267.57 1066.82 267.85 1064.6 268.2" stroke="#2b2728" stroke-width="0.95" fill="none"/>
<path d="M735.5 101.1L737.6 101.16 739.69 101.23 741.79 101.28 743.88 101.34 745.98 101.4 748.07 101.46 750.17 101.51 752.26 101.57 754.36 101.62 756.45 101.68 758.55 101.74 760.64 101.8 762.74 101.86 764.83 101.93 766.93 102 769.02 102.07 771.12 102.15 773.21 102.23 775.31 102.31 777.4 102.4 779.5 102.49 781.59 102.59 783.69 102.68 785.78 102.78 787.88 102.88 789.97 102.99 792.07 103.09 794.16 103.2 796.26 103.31 798.36 103.43 800.45 103.54 802.55 103.67 804.64 103.79 806.74 103.92 808.83 104.06 810.92 104.19 813.02 104.34 815.11 104.49 817.21 104.64 819.3 104.8 821.3 104.96 823.29 105.11 825.29 105.28 827.29 105.44 829.28 105.61 831.28 105.78 833.28 105.96 835.27 106.14 837.27 106.32 839.27 106.51 841.26 106.7 843.26 106.89 845.25 107.1 847.25 107.3 849.24 107.51 851.23 107.73 853.23 107.95 855.22 108.18 857.22 108.41 859.21 108.65 861.2 108.9 863.2 109.15 865.2 109.41 867.19 109.68 869.19 109.95 871.19 110.23 873.19 110.51 875.18 110.8 877.18 111.09 879.18 111.39 881.17 111.69 883.17 112 885.16 112.31 887.16 112.63 889.15 112.95 891.14 113.28 893.14 113.6 895.13 113.94 897.12 114.27 899.12 114.61 901.11 114.95 903.1 115.3 905.1 115.65 907.1 116 909.1 116.35 911.1 116.7 913.09 117.06 915.09 117.42 917.09 117.78 919.09 118.15 921.09 118.52 923.08 118.89 925.08 119.28 927.08 119.66 929.07 120.06 931.07 120.46 933.06 120.87 935.05 121.28 937.04 121.71 939.04 122.14 941.02 122.58 943.01 123.04 945 123.5 947 123.98 949.01 124.46 951.01 124.94 953.02 125.43 955.02 125.93 957.02 126.43 959.02 126.95 961.02 127.47 963.02 127.99 965.02 128.53 967.02 129.07 969.01 129.63 971.01 130.19 973 130.76 974.99 131.35 976.98 131.94 978.97 132.55 980.96 133.17 982.94 133.8 984.92 134.44 986.9 135.1 988.82 135.75 990.74 136.4 992.66 137.07 994.58 137.74 996.5 138.42 998.42 139.11 1000.33 139.82 1002.25 140.53 1004.16 141.25 1006.07 141.98 1007.98 142.72 1009.89 143.47 1011.79 144.24 1013.69 145.01 1015.59 145.8 1017.49 146.6 1019.38 147.42 1021.27 148.25 1023.16 149.09 1025.04 149.94 1026.92 150.82 1028.8 151.7 1030.57 152.55 1032.35 153.41 1034.12 154.27 1035.89 155.15 1037.66 156.04 1039.42 156.93 1041.19 157.84 1042.95 158.76 1044.71 159.69 1046.47 160.63 1048.22 161.58 1049.97 162.54 1051.72 163.52 1053.47 164.51 1055.21 165.51 1056.95 166.53 1058.68 167.56 1060.41 168.61 1062.14 169.67 1063.86 170.74 1065.58 171.83 1067.29 172.94 1069 174.06 1070.7 175.2 1072.36 176.33 1074 177.49 1075.65 178.67 1077.28 179.87 1078.91 181.1 1080.54 182.34 1082.16 183.6 1083.77 184.88 1085.39 186.17 1087 187.47 1088.6 188.78 1090.2 190.11 1091.8 191.44 1093.4 192.78 1095 194.12 1096.6 195.47 1098.19 196.82 1099.79 198.17 1101.38 199.52 1102.98 200.86 1104.58 202.2 1106.18 203.54 1107.78 204.87 1109.38 206.19 1110.99 207.5 1112.6 208.8" stroke="#231f20" stroke-width="1.8" fill="none"/>
<path d="M735.5 119.7L737.6 119.74 739.69 119.78 741.79 119.81 743.88 119.84 745.98 119.88 748.07 119.91 750.17 119.94 752.26 119.97 754.36 120 756.45 120.04 758.55 120.07 760.64 120.11 762.74 120.15 764.83 120.19 766.93 120.23 769.02 120.28 771.12 120.33 773.21 120.38 775.31 120.44 777.4 120.5 779.5 120.56 781.59 120.63 783.69 120.7 785.78 120.76 787.88 120.83 789.97 120.9 792.07 120.97 794.16 121.05 796.26 121.13 798.36 121.21 800.45 121.29 802.55 121.38 804.64 121.48 806.74 121.57 808.83 121.68 810.92 121.79 813.02 121.91 815.11 122.03 817.21 122.16 819.3 122.3 821.3 122.44 823.29 122.58 825.29 122.73 827.29 122.88 829.28 123.04 831.28 123.2 833.28 123.37 835.27 123.54 837.27 123.72 839.26 123.9 841.26 124.08 843.26 124.27 845.25 124.47 847.24 124.67 849.24 124.87 851.23 125.08 853.23 125.3 855.22 125.52 857.21 125.74 859.21 125.97 861.2 126.2 863.2 126.44 865.2 126.68 867.19 126.93 869.19 127.18 871.19 127.44 873.19 127.7 875.18 127.97 877.18 128.24 879.17 128.52 881.17 128.8 883.17 129.08 885.16 129.37 887.16 129.67 889.15 129.97 891.14 130.27 893.14 130.58 895.13 130.9 897.12 131.22 899.12 131.54 901.11 131.87 903.1 132.2 905.1 132.54 907.1 132.87 909.1 133.21 911.1 133.55 913.1 133.9 915.1 134.25 917.1 134.6 919.1 134.95 921.09 135.31 923.09 135.68 925.09 136.06 927.09 136.44 929.08 136.83 931.07 137.22 933.07 137.63 935.06 138.05 937.05 138.47 939.04 138.91 941.03 139.36 943.02 139.82 945 140.3 947.01 140.79 949.01 141.29 951.02 141.8 953.02 142.31 955.03 142.84 957.03 143.37 959.03 143.91 961.03 144.46 963.03 145.03 965.03 145.6 967.03 146.18 969.03 146.77 971.02 147.37 973.01 147.98 975 148.61 976.99 149.24 978.98 149.89 980.96 150.55 982.94 151.22 984.92 151.9 986.9 152.6 988.82 153.29 990.75 153.98 992.67 154.69 994.59 155.4 996.51 156.12 998.43 156.85 1000.35 157.59 1002.26 158.34 1004.18 159.1 1006.09 159.87 1008 160.66 1009.91 161.45 1011.81 162.26 1013.71 163.08 1015.61 163.92 1017.51 164.77 1019.4 165.64 1021.29 166.52 1023.17 167.41 1025.05 168.32 1026.93 169.25 1028.8 170.2 1030.58 171.12 1032.36 172.04 1034.13 172.98 1035.9 173.94 1037.67 174.9 1039.44 175.88 1041.21 176.87 1042.97 177.88 1044.73 178.89 1046.48 179.92 1048.24 180.96 1049.99 182.02 1051.73 183.09 1053.48 184.17 1055.22 185.26 1056.95 186.37 1058.69 187.49 1060.41 188.62 1062.14 189.77 1063.86 190.93 1065.58 192.1 1067.29 193.29 1069 194.49 1070.7 195.7 1072.29 196.86 1073.88 198.03 1075.46 199.23 1077.04 200.45 1078.61 201.68 1080.17 202.94 1081.73 204.2 1083.29 205.48 1084.84 206.78 1086.39 208.08 1087.94 209.4 1089.49 210.72 1091.03 212.06 1092.57 213.39 1094.11 214.74 1095.65 216.09 1097.18 217.44 1098.72 218.79 1100.26 220.14 1101.8 221.49 1103.33 222.84 1104.87 224.18 1106.41 225.52 1107.96 226.85 1109.5 228.18 1111.05 229.49 1112.6 230.8" stroke="#231f20" stroke-width="1.8" fill="none"/>
<path d="M735.5 156.4L737.6 156.43 739.69 156.45 741.79 156.47 743.88 156.49 745.98 156.51 748.07 156.53 750.17 156.55 752.26 156.56 754.36 156.58 756.45 156.6 758.55 156.62 760.64 156.64 762.74 156.67 764.83 156.7 766.93 156.74 769.02 156.78 771.12 156.82 773.21 156.88 775.31 156.93 777.4 157 779.5 157.07 781.59 157.15 783.69 157.23 785.78 157.31 787.88 157.4 789.97 157.49 792.07 157.59 794.16 157.69 796.26 157.79 798.36 157.9 800.45 158.01 802.55 158.13 804.64 158.25 806.74 158.37 808.83 158.5 810.92 158.63 813.02 158.77 815.11 158.91 817.21 159.05 819.3 159.2 821.3 159.34 823.29 159.49 825.29 159.65 827.29 159.8 829.28 159.96 831.28 160.13 833.27 160.3 835.27 160.47 837.27 160.64 839.26 160.82 841.26 161 843.25 161.19 845.25 161.38 847.24 161.57 849.24 161.77 851.23 161.96 853.22 162.17 855.22 162.37 857.21 162.58 859.21 162.79 861.2 163 863.2 163.21 865.19 163.43 867.19 163.64 869.19 163.86 871.19 164.08 873.18 164.3 875.18 164.52 877.18 164.75 879.17 164.98 881.17 165.21 883.17 165.45 885.16 165.69 887.16 165.94 889.15 166.2 891.15 166.46 893.14 166.73 895.13 167.01 897.13 167.29 899.12 167.58 901.11 167.89 903.1 168.2 905.1 168.52 907.1 168.85 909.1 169.19 911.1 169.53 913.1 169.88 915.1 170.24 917.1 170.6 919.09 170.97 921.09 171.34 923.09 171.73 925.08 172.12 927.08 172.51 929.07 172.92 931.07 173.33 933.06 173.75 935.05 174.17 937.04 174.6 939.03 175.04 941.02 175.49 943.01 175.94 945 176.4 947 176.87 949.01 177.34 951.01 177.81 953.02 178.28 955.02 178.76 957.03 179.25 959.03 179.74 961.03 180.24 963.04 180.74 965.04 181.26 967.04 181.78 969.03 182.32 971.03 182.87 973.02 183.43 975.01 184 977 184.59 978.99 185.2 980.97 185.82 982.95 186.46 984.93 187.12 986.9 187.8 988.83 188.48 990.75 189.18 992.68 189.89 994.6 190.62 996.52 191.37 998.44 192.12 1000.35 192.89 1002.27 193.68 1004.18 194.47 1006.09 195.28 1007.99 196.11 1009.9 196.94 1011.8 197.79 1013.7 198.65 1015.59 199.52 1017.49 200.4 1019.38 201.29 1021.27 202.19 1023.16 203.1 1025.04 204.03 1026.92 204.96 1028.8 205.9 1030.57 206.8 1032.34 207.7 1034.11 208.61 1035.88 209.52 1037.65 210.44 1039.42 211.38 1041.19 212.32 1042.95 213.27 1044.71 214.23 1046.47 215.2 1048.22 216.18 1049.98 217.17 1051.73 218.18 1053.47 219.19 1055.22 220.22 1056.95 221.27 1058.69 222.33 1060.42 223.4 1062.15 224.49 1063.87 225.6 1065.58 226.72 1067.29 227.86 1069 229.02 1070.7 230.2 1072.3 231.33 1073.89 232.49 1075.47 233.67 1077.05 234.87 1078.62 236.09 1080.19 237.32 1081.75 238.58 1083.31 239.85 1084.86 241.14 1086.41 242.44 1087.96 243.75 1089.5 245.07 1091.04 246.4 1092.58 247.73 1094.12 249.07 1095.66 250.42 1097.2 251.77 1098.73 253.12 1100.27 254.47 1101.8 255.82 1103.34 257.16 1104.88 258.51 1106.42 259.84 1107.96 261.17 1109.5 262.49 1111.05 263.8 1112.6 265.1" stroke="#231f20" stroke-width="1.8" fill="none"/>
<path d="M735.5 192.2L737.6 192.24 739.69 192.27 741.79 192.3 743.88 192.33 745.98 192.36 748.07 192.38 750.17 192.41 752.26 192.43 754.36 192.46 756.45 192.49 758.55 192.52 760.64 192.55 762.74 192.59 764.83 192.63 766.93 192.67 769.02 192.72 771.12 192.78 773.21 192.85 775.31 192.92 777.4 193 779.5 193.09 781.59 193.18 783.69 193.27 785.78 193.37 787.88 193.48 789.98 193.59 792.07 193.7 794.17 193.81 796.26 193.94 798.36 194.06 800.45 194.19 802.55 194.33 804.64 194.47 806.74 194.62 808.83 194.77 810.93 194.92 813.02 195.09 815.11 195.25 817.21 195.42 819.3 195.6 821.3 195.77 823.29 195.95 825.29 196.13 827.29 196.31 829.29 196.5 831.28 196.69 833.28 196.89 835.28 197.09 837.27 197.29 839.27 197.5 841.26 197.72 843.26 197.94 845.26 198.16 847.25 198.4 849.24 198.63 851.24 198.88 853.23 199.13 855.22 199.39 857.22 199.65 859.21 199.92 861.2 200.2 863.2 200.49 865.2 200.78 867.2 201.08 869.2 201.38 871.2 201.69 873.19 202 875.19 202.33 877.19 202.65 879.19 202.99 881.18 203.33 883.18 203.67 885.17 204.03 887.17 204.39 889.16 204.75 891.16 205.12 893.15 205.5 895.14 205.89 897.13 206.28 899.12 206.68 901.11 207.09 903.1 207.5 905.1 207.92 907.1 208.35 909.11 208.78 911.11 209.22 913.11 209.66 915.11 210.11 917.11 210.57 919.11 211.03 921.11 211.5 923.11 211.98 925.1 212.46 927.1 212.95 929.09 213.45 931.09 213.96 933.08 214.48 935.07 215.01 937.06 215.55 939.05 216.09 941.03 216.65 943.02 217.22 945 217.8 946.92 218.37 948.83 218.94 950.75 219.53 952.67 220.11 954.58 220.71 956.5 221.31 958.41 221.92 960.32 222.54 962.23 223.17 964.14 223.81 966.05 224.46 967.96 225.11 969.86 225.78 971.76 226.46 973.66 227.14 975.56 227.84 977.46 228.56 979.35 229.28 981.24 230.01 983.13 230.76 985.02 231.52 986.9 232.3 988.74 233.08 990.59 233.87 992.42 234.67 994.26 235.5 996.09 236.33 997.92 237.18 999.75 238.04 1001.58 238.91 1003.4 239.79 1005.22 240.68 1007.05 241.58 1008.86 242.49 1010.68 243.41 1012.5 244.33 1014.31 245.26 1016.13 246.19 1017.94 247.13 1019.75 248.07 1021.56 249.01 1023.37 249.96 1025.18 250.91 1026.99 251.85 1028.8 252.8 1030.65 253.78 1032.53 254.78 1034.43 255.81 1036.36 256.86 1038.3 257.93 1040.25 259.01 1042.2 260.1 1044.16 261.2 1046.11 262.3 1048.06 263.41 1050 264.51 1051.92 265.6 1053.82 266.69 1055.69 267.76 1057.54 268.81 1059.35 269.84 1061.12 270.85 1062.85 271.83 1064.53 272.78 1066.16 273.7 1067.74 274.57 1069.25 275.41 1070.7 276.2 1072.88 277.38 1074.91 278.46 1076.81 279.47 1078.63 280.42 1080.38 281.34 1082.11 282.23 1083.83 283.13 1085.58 284.05 1087.4 285" stroke="#231f20" stroke-width="1.8" fill="none"/>
<path d="M849.1 517L851.1 516.59 853.12 516.17 855.14 515.75 857.16 515.33 859.19 514.91 861.23 514.49 863.27 514.07 865.31 513.64 867.35 513.22 869.39 512.79 871.43 512.37 873.47 511.94 875.51 511.52 877.54 511.1 879.56 510.68 881.58 510.26 883.6 509.85 885.6 509.43 887.6 509.02 889.58 508.62 891.55 508.22 893.52 507.82 895.46 507.42 897.4 507.03 899.31 506.65 901.22 506.27 903.1 505.9 905.21 505.48 907.29 505.06 909.36 504.65 911.4 504.23 913.43 503.81 915.44 503.4 917.44 502.99 919.43 502.59 921.41 502.19 923.38 501.79 925.34 501.4 927.3 501.02 929.25 500.65 931.21 500.28 933.16 499.92 935.12 499.57 937.08 499.24 939.05 498.91 941.02 498.59 943 498.29 945 498 946.99 497.73 948.98 497.46 950.97 497.22 952.96 496.98 954.96 496.76 956.95 496.55 958.95 496.34 960.94 496.15 962.94 495.96 964.93 495.78 966.93 495.61 968.93 495.44 970.92 495.27 972.92 495.11 974.92 494.95 976.91 494.79 978.91 494.64 980.91 494.48 982.91 494.32 984.9 494.16 986.9 494 988.89 493.84 990.89 493.68 992.88 493.52 994.88 493.36 996.87 493.21 998.87 493.05 1000.86 492.9 1002.86 492.76 1004.85 492.61 1006.85 492.47 1008.84 492.33 1010.84 492.19 1012.83 492.06 1014.83 491.93 1016.82 491.8 1018.82 491.68 1020.82 491.56 1022.81 491.44 1024.81 491.32 1026.8 491.21 1028.8 491.1 1030.89 490.99 1032.99 490.88 1035.08 490.78 1037.18 490.68 1039.27 490.58 1041.37 490.49 1043.46 490.4 1045.56 490.31 1047.65 490.23 1049.75 490.15 1051.84 490.07 1053.94 490 1056.03 489.93 1058.13 489.86 1060.22 489.79 1062.32 489.73 1064.41 489.67 1066.51 489.61 1068.6 489.55 1070.7 489.5 1072.79 489.45 1074.89 489.41 1076.98 489.37 1079.08 489.33 1081.17 489.3 1083.27 489.27 1085.36 489.24 1087.46 489.22 1089.55 489.2 1091.65 489.18 1093.74 489.16 1095.84 489.15 1097.93 489.13 1100.03 489.12 1102.12 489.1 1104.22 489.08 1106.31 489.06 1108.41 489.05 1110.5 489.02 1112.6 489" stroke="#231f20" stroke-width="1.7" fill="none"/>
<path d="M849.1 521.7L851.1 521.29 853.12 520.87 855.14 520.44 857.16 520.02 859.19 519.59 861.23 519.16 863.26 518.72 865.3 518.29 867.35 517.85 869.39 517.41 871.43 516.98 873.46 516.54 875.5 516.11 877.53 515.68 879.55 515.26 881.57 514.83 883.59 514.41 885.59 514 887.59 513.59 889.57 513.19 891.55 512.79 893.51 512.41 895.46 512.03 897.39 511.66 899.31 511.29 901.21 510.94 903.1 510.6 905.21 510.23 907.29 509.86 909.35 509.5 911.4 509.15 913.42 508.81 915.44 508.48 917.44 508.15 919.43 507.83 921.41 507.52 923.38 507.21 925.34 506.91 927.3 506.62 929.26 506.33 931.21 506.05 933.17 505.77 935.12 505.5 937.08 505.23 939.05 504.97 941.02 504.71 943.01 504.45 945 504.2 946.99 503.95 948.98 503.71 950.98 503.48 952.97 503.25 954.97 503.03 956.96 502.81 958.95 502.6 960.95 502.4 962.94 502.19 964.94 502 966.93 501.81 968.93 501.62 970.93 501.44 972.92 501.26 974.92 501.08 976.92 500.91 978.91 500.74 980.91 500.58 982.91 500.41 984.9 500.26 986.9 500.1 988.99 499.94 991.09 499.79 993.18 499.64 995.28 499.49 997.37 499.35 999.46 499.22 1001.56 499.09 1003.65 498.96 1005.75 498.84 1007.84 498.72 1009.94 498.6 1012.04 498.49 1014.13 498.38 1016.23 498.28 1018.32 498.18 1020.42 498.08 1022.51 497.98 1024.61 497.88 1026.7 497.79 1028.8 497.7 1030.89 497.61 1032.99 497.53 1035.08 497.44 1037.18 497.36 1039.27 497.29 1041.37 497.21 1043.46 497.14 1045.56 497.08 1047.65 497.01 1049.75 496.95 1051.84 496.89 1053.94 496.84 1056.03 496.78 1058.13 496.73 1060.22 496.69 1062.32 496.64 1064.41 496.6 1066.51 496.57 1068.6 496.53 1070.7 496.5 1072.79 496.47 1074.89 496.45 1076.98 496.43 1079.08 496.42 1081.17 496.42 1083.27 496.41 1085.36 496.41 1087.46 496.41 1089.55 496.42 1091.65 496.43 1093.74 496.43 1095.84 496.44 1097.93 496.45 1100.03 496.46 1102.12 496.47 1104.22 496.48 1106.31 496.49 1108.41 496.49 1110.5 496.5 1112.6 496.5" stroke="#231f20" stroke-width="1.7" fill="none"/>
<path d="M849.1 526.8L851.1 526.46 853.12 526.12 855.14 525.78 857.16 525.43 859.19 525.09 861.23 524.73 863.27 524.38 865.31 524.03 867.35 523.67 869.39 523.32 871.43 522.97 873.47 522.61 875.5 522.26 877.53 521.91 879.56 521.57 881.58 521.22 883.59 520.88 885.6 520.55 887.59 520.22 889.58 519.89 891.55 519.57 893.51 519.26 895.46 518.95 897.39 518.65 899.31 518.36 901.21 518.07 903.1 517.8 905.21 517.5 907.29 517.21 909.36 516.93 911.4 516.65 913.43 516.39 915.45 516.13 917.45 515.87 919.44 515.63 921.42 515.38 923.39 515.15 925.35 514.91 927.31 514.69 929.27 514.46 931.22 514.24 933.18 514.02 935.13 513.8 937.09 513.58 939.06 513.36 941.03 513.14 943.01 512.92 945 512.7 946.99 512.48 948.99 512.26 950.98 512.04 952.98 511.82 954.97 511.6 956.97 511.39 958.96 511.17 960.96 510.96 962.95 510.75 964.95 510.54 966.94 510.34 968.94 510.13 970.93 509.94 972.93 509.74 974.92 509.55 976.92 509.36 978.91 509.18 980.91 509 982.91 508.83 984.9 508.66 986.9 508.5 988.99 508.34 991.09 508.18 993.18 508.02 995.28 507.88 997.37 507.73 999.46 507.6 1001.56 507.46 1003.65 507.34 1005.75 507.21 1007.84 507.09 1009.94 506.97 1012.04 506.85 1014.13 506.74 1016.23 506.63 1018.32 506.52 1020.42 506.42 1022.51 506.31 1024.61 506.21 1026.7 506.1 1028.8 506 1030.89 505.9 1032.99 505.8 1035.08 505.7 1037.18 505.61 1039.27 505.52 1041.37 505.43 1043.46 505.35 1045.56 505.26 1047.65 505.18 1049.75 505.1 1051.84 505.02 1053.94 504.95 1056.03 504.87 1058.13 504.8 1060.22 504.73 1062.32 504.66 1064.41 504.59 1066.51 504.53 1068.6 504.46 1070.7 504.4 1072.79 504.34 1074.89 504.28 1076.98 504.23 1079.08 504.18 1081.17 504.13 1083.27 504.08 1085.36 504.03 1087.46 503.99 1089.55 503.95 1091.65 503.91 1093.74 503.87 1095.84 503.83 1097.93 503.79 1100.03 503.75 1102.12 503.71 1104.22 503.67 1106.31 503.63 1108.41 503.59 1110.5 503.54 1112.6 503.5" stroke="#231f20" stroke-width="1.7" fill="none"/>
<path d="M849.1 533.8L851.1 533.56 853.12 533.32 855.14 533.08 857.16 532.83 859.19 532.58 861.23 532.33 863.27 532.08 865.31 531.83 867.35 531.58 869.39 531.32 871.43 531.07 873.47 530.82 875.51 530.57 877.54 530.32 879.56 530.08 881.58 529.83 883.6 529.59 885.6 529.35 887.6 529.12 889.58 528.88 891.55 528.66 893.52 528.43 895.46 528.22 897.4 528 899.31 527.8 901.22 527.59 903.1 527.4 905.21 527.19 907.29 526.98 909.36 526.78 911.41 526.58 913.44 526.39 915.45 526.2 917.45 526.02 919.44 525.84 921.42 525.67 923.39 525.5 925.36 525.33 927.31 525.17 929.27 525.01 931.22 524.85 933.18 524.69 935.13 524.54 937.09 524.39 939.06 524.24 941.03 524.09 943.01 523.95 945 523.8 947.09 523.65 949.19 523.5 951.28 523.36 953.38 523.22 955.47 523.08 957.57 522.95 959.66 522.82 961.76 522.69 963.85 522.57 965.95 522.44 968.04 522.32 970.14 522.2 972.23 522.09 974.33 521.97 976.42 521.86 978.52 521.74 980.61 521.63 982.71 521.52 984.8 521.41 986.9 521.3 988.99 521.19 991.09 521.08 993.18 520.98 995.28 520.88 997.37 520.77 999.47 520.67 1001.56 520.57 1003.66 520.48 1005.75 520.38 1007.85 520.29 1009.94 520.19 1012.04 520.1 1014.13 520.01 1016.23 519.92 1018.32 519.83 1020.42 519.74 1022.51 519.66 1024.61 519.57 1026.7 519.49 1028.8 519.4 1030.92 519.31 1033.08 519.23 1035.27 519.15 1037.49 519.06 1039.73 518.98 1041.98 518.89 1044.24 518.81 1046.49 518.73 1048.74 518.65 1050.96 518.57 1053.17 518.49 1055.34 518.42 1057.47 518.35 1059.56 518.27 1061.59 518.21 1063.56 518.14 1065.47 518.07 1067.3 518.01 1069.04 517.96 1070.7 517.9 1073.1 517.82 1075.31 517.75 1077.37 517.69 1079.32 517.63 1081.22 517.57 1083.1 517.52 1085.01 517.46 1087 517.4" stroke="#231f20" stroke-width="1.7" fill="none"/>
<path d="M849.1 645.8L851.1 645.7 853.12 645.6 855.14 645.49 857.16 645.39 859.2 645.3 861.23 645.2 863.27 645.1 865.31 645 867.35 644.9 869.4 644.81 871.44 644.71 873.48 644.61 875.51 644.51 877.55 644.41 879.57 644.31 881.59 644.21 883.61 644.11 885.61 644.01 887.6 643.9 889.59 643.8 891.56 643.69 893.52 643.58 895.47 643.47 897.4 643.36 899.32 643.24 901.22 643.12 903.1 643 905.21 642.86 907.3 642.72 909.37 642.58 911.42 642.43 913.45 642.29 915.46 642.14 917.46 641.99 919.45 641.84 921.43 641.69 923.4 641.53 925.37 641.38 927.33 641.22 929.28 641.06 931.23 640.9 933.19 640.73 935.14 640.56 937.1 640.4 939.06 640.23 941.03 640.05 943.01 639.88 945 639.7 947.01 639.52 949.05 639.34 951.12 639.15 953.2 638.97 955.29 638.78 957.4 638.59 959.51 638.4 961.62 638.2 963.72 638.01 965.82 637.81 967.9 637.61 969.96 637.41 972 637.2 974.01 637 975.99 636.79 977.93 636.58 979.83 636.37 981.68 636.15 983.48 635.94 985.22 635.72 986.9 635.5 989.29 635.17 991.55 634.84 993.71 634.5 995.79 634.15 997.81 633.81 999.79 633.46 1001.76 633.1 1003.74 632.74 1005.74 632.37 1007.8 632 1009.9 631.62 1012 631.24 1014.1 630.86 1016.21 630.47 1018.31 630.08 1020.41 629.68 1022.51 629.27 1024.61 628.86 1026.71 628.43 1028.8 628 1030.9 627.56 1032.99 627.12 1035.08 626.67 1037.18 626.21 1039.27 625.75 1041.36 625.27 1043.45 624.78 1045.53 624.28 1047.62 623.75 1049.7 623.2 1051.81 622.63 1053.92 622.04 1056.02 621.44 1058.13 620.83 1060.23 620.2 1062.34 619.55 1064.43 618.87 1066.53 618.17 1068.62 617.45 1070.7 616.7 1072.65 615.97 1074.62 615.21 1076.61 614.41 1078.61 613.6 1080.6 612.76 1082.57 611.91 1084.51 611.06 1086.4 610.21 1088.24 609.36 1090.01 608.52 1091.7 607.7 1093.7 606.69 1095.62 605.69 1097.46 604.7 1099.23 603.7 1100.94 602.7 1102.59 601.7 1104.2 600.7 1106.01 599.5 1107.71 598.3 1109.34 597.1 1110.95 595.9 1112.6 594.7" stroke="#231f20" stroke-width="1.7" fill="none"/>
<text x="887.9" y="107.3" font-size="10.2" text-anchor="middle" fill="#2e2a2b" letter-spacing="-0.4">50</text>
<text x="917.6" y="112.3" font-size="10.2" text-anchor="middle" fill="#2e2a2b" letter-spacing="-0.4">55</text>
<text x="963.5" y="122.5" font-size="10.2" text-anchor="middle" fill="#2e2a2b" letter-spacing="-0.4">60</text>
<text x="996.6" y="132.8" font-size="10.2" text-anchor="middle" fill="#2e2a2b" letter-spacing="-0.4">63</text>
<text x="1026.3" y="145.2" font-size="10.2" text-anchor="middle" fill="#2e2a2b" letter-spacing="-0.4">65</text>
<text x="1064.9" y="165" font-size="10.2" text-anchor="middle" fill="#2e2a2b" letter-spacing="-0.4">67</text>
<text x="1081.6" y="176.4" font-size="10.2" text-anchor="middle" fill="#2e2a2b" letter-spacing="-0.4">67</text>
<text x="1105.6" y="196.6" font-size="10.2" text-anchor="middle" fill="#2e2a2b" letter-spacing="-0.4">65</text>
<text x="743.4" y="100.2" font-size="10.8" text-anchor="start" fill="#231f20" font-weight="bold" letter-spacing="0.1">50-250/300</text>
<text x="743.4" y="119.4" font-size="10.8" text-anchor="start" fill="#231f20" font-weight="bold" letter-spacing="0.1">50-250/220</text>
<text x="743.4" y="155.1" font-size="10.8" text-anchor="start" fill="#231f20" font-weight="bold" letter-spacing="0.1">50-250/185</text>
<text x="743.4" y="191.3" font-size="10.8" text-anchor="start" fill="#231f20" font-weight="bold" letter-spacing="0.1">50-250/150</text>
<text x="1116.1" y="216.1" font-size="10.5" text-anchor="start" fill="#231f20" font-weight="bold" letter-spacing="0">214mm</text>
<text x="1116.1" y="235.4" font-size="10.5" text-anchor="start" fill="#231f20" font-weight="bold" letter-spacing="0">208mm</text>
<text x="1116.1" y="269.6" font-size="10.5" text-anchor="start" fill="#231f20" font-weight="bold" letter-spacing="0">195mm</text>
<text x="1089.8" y="292.2" font-size="10.5" text-anchor="start" fill="#231f20" font-weight="bold" letter-spacing="0">190mm</text>
<text x="1116" y="491.1" font-size="10.5" text-anchor="start" fill="#231f20" font-weight="bold" letter-spacing="0">214mm</text>
<text x="1116" y="500.9" font-size="10.5" text-anchor="start" fill="#231f20" font-weight="bold" letter-spacing="0">208mm</text>
<text x="1116" y="511.9" font-size="10.5" text-anchor="start" fill="#231f20" font-weight="bold" letter-spacing="0">195mm</text>
<text x="1088.9" y="521.9" font-size="10.5" text-anchor="start" fill="#231f20" font-weight="bold" letter-spacing="0">190mm</text>
</svg>
</body>
</html>
